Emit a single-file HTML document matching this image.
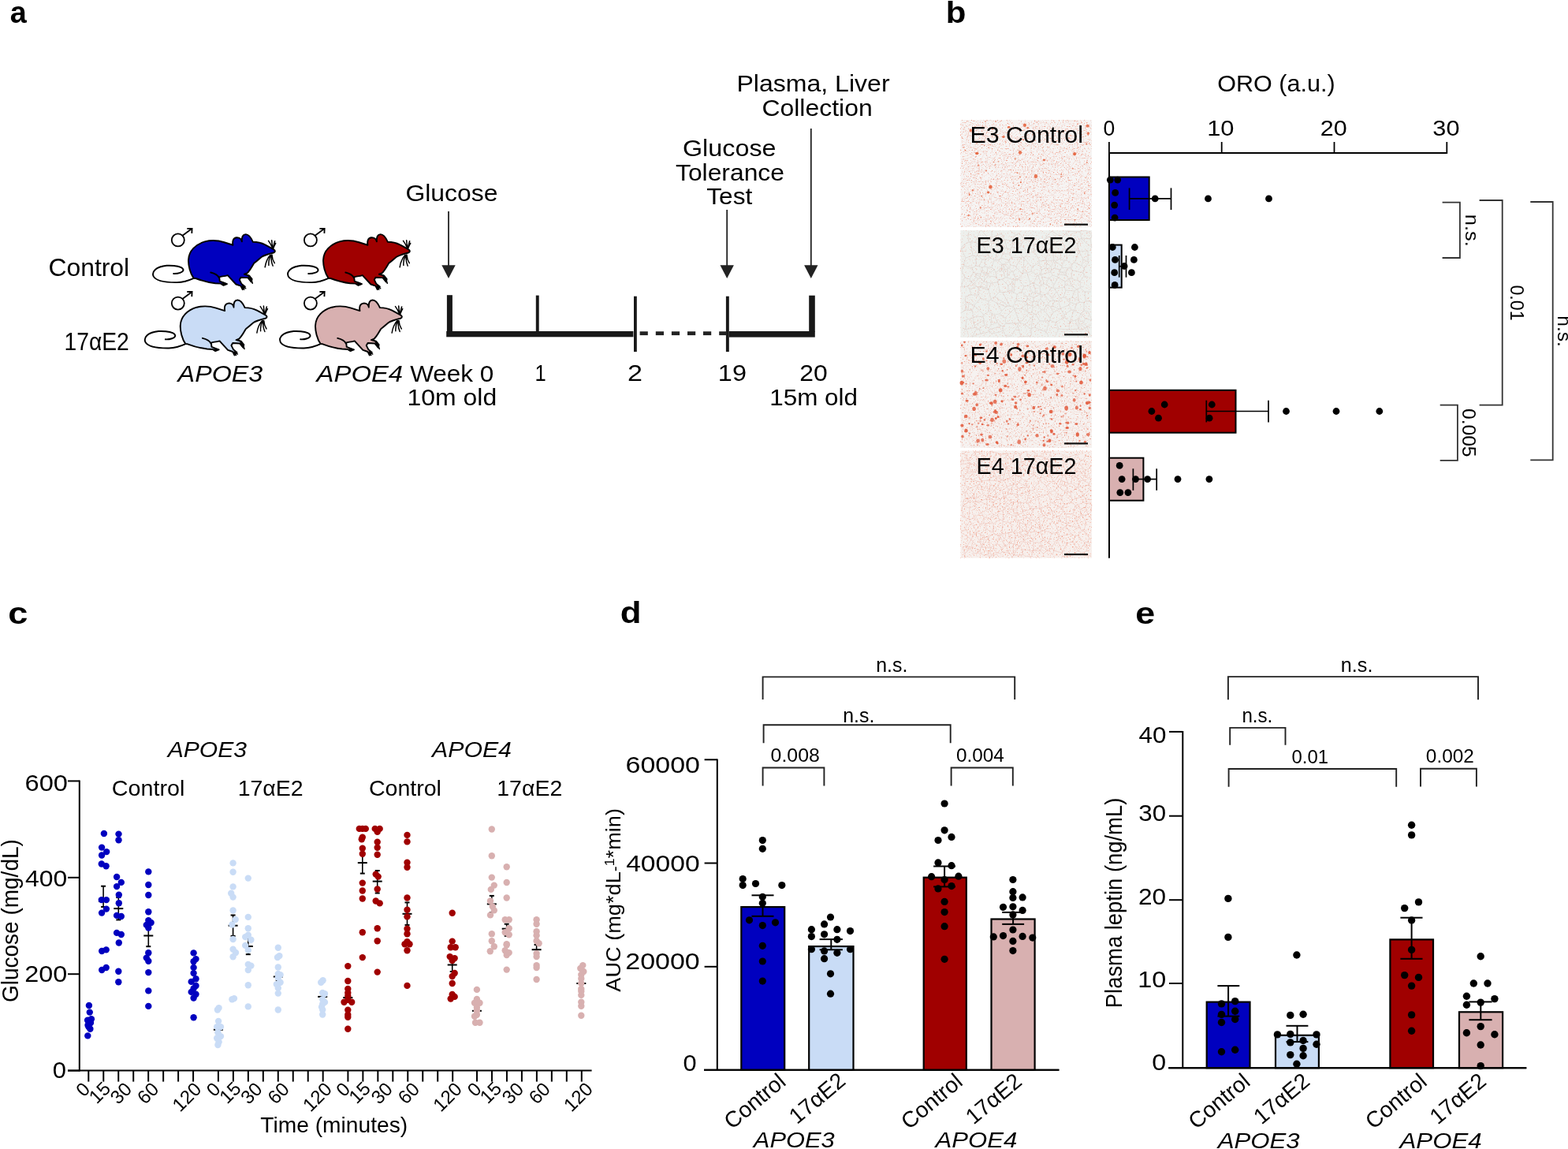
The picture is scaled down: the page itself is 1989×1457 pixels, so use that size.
<!DOCTYPE html>
<html><head><meta charset="utf-8"><title>Figure</title>
<style>html,body{margin:0;padding:0;background:#fff;}svg{display:block;}
text{font-family:"Liberation Sans",Arial,"Noto Sans CJK SC",sans-serif;}</style></head>
<body><svg width="1989" height="1457" viewBox="0 0 1989 1457">
<rect width="1989" height="1457" fill="#fff"/>
<defs><filter id="spk0" x="0" y="0" width="1" height="1" color-interpolation-filters="sRGB"><feTurbulence type="fractalNoise" baseFrequency="0.6" numOctaves="2" seed="2"/><feColorMatrix type="matrix" values="0 0 0 0 0.94 0 0 0 0 0.52 0 0 0 0 0.42 3.2 0 0 0 -1.84"/><feGaussianBlur stdDeviation="0.35"/></filter><filter id="spk1" x="0" y="0" width="1" height="1" color-interpolation-filters="sRGB"><feTurbulence type="fractalNoise" baseFrequency="0.6" numOctaves="2" seed="7"/><feColorMatrix type="matrix" values="0 0 0 0 0.94 0 0 0 0 0.66 0 0 0 0 0.6 2.8 0 0 0 -1.64"/><feGaussianBlur stdDeviation="0.35"/></filter><filter id="spk2" x="0" y="0" width="1" height="1" color-interpolation-filters="sRGB"><feTurbulence type="fractalNoise" baseFrequency="0.6" numOctaves="2" seed="12"/><feColorMatrix type="matrix" values="0 0 0 0 0.93 0 0 0 0 0.5 0 0 0 0 0.4 3.2 0 0 0 -1.9"/><feGaussianBlur stdDeviation="0.35"/></filter><filter id="spk3" x="0" y="0" width="1" height="1" color-interpolation-filters="sRGB"><feTurbulence type="fractalNoise" baseFrequency="0.6" numOctaves="2" seed="17"/><feColorMatrix type="matrix" values="0 0 0 0 0.95 0 0 0 0 0.58 0 0 0 0 0.48 3.2 0 0 0 -1.82"/><feGaussianBlur stdDeviation="0.35"/></filter></defs>
<text x="12.87" y="29.20" font-size="39.5" font-weight="bold" textLength="20.99" lengthAdjust="spacingAndGlyphs" fill="#000">a</text>
<text x="61.41" y="349.90" font-size="30.5" textLength="102.79" lengthAdjust="spacingAndGlyphs" fill="#000">Control</text>
<text x="81.48" y="443.70" font-size="30.5" textLength="82.29" lengthAdjust="spacingAndGlyphs" fill="#000">17αE2</text>
<text x="225.61" y="484.00" font-size="30" font-style="italic" textLength="107.71" lengthAdjust="spacingAndGlyphs" fill="#000">APOE3</text>
<text x="401.64" y="484.00" font-size="30" font-style="italic" textLength="109.51" lengthAdjust="spacingAndGlyphs" fill="#000">APOE4</text>
<text x="520.24" y="484.00" font-size="30" textLength="106.08" lengthAdjust="spacingAndGlyphs" fill="#000">Week 0</text>
<text x="516.61" y="513.50" font-size="30" textLength="113.56" lengthAdjust="spacingAndGlyphs" fill="#000">10m old</text>
<text x="678.48" y="482.50" font-size="30" textLength="14.23" lengthAdjust="spacingAndGlyphs" fill="#000">1</text>
<text x="795.90" y="482.50" font-size="30" textLength="18.95" lengthAdjust="spacingAndGlyphs" fill="#000">2</text>
<text x="910.87" y="482.50" font-size="30" textLength="36.07" lengthAdjust="spacingAndGlyphs" fill="#000">19</text>
<text x="1014.21" y="482.50" font-size="30" textLength="35.44" lengthAdjust="spacingAndGlyphs" fill="#000">20</text>
<text x="976.24" y="514.20" font-size="30" textLength="111.78" lengthAdjust="spacingAndGlyphs" fill="#000">15m old</text>
<text x="514.40" y="254.80" font-size="30" textLength="117.15" lengthAdjust="spacingAndGlyphs" fill="#000">Glucose</text>
<text x="865.98" y="197.60" font-size="30" textLength="118.58" lengthAdjust="spacingAndGlyphs" fill="#000">Glucose</text>
<text x="857.00" y="228.70" font-size="30" textLength="137.96" lengthAdjust="spacingAndGlyphs" fill="#000">Tolerance</text>
<text x="896.21" y="259.00" font-size="30" textLength="58.08" lengthAdjust="spacingAndGlyphs" fill="#000">Test</text>
<text x="934.44" y="116.00" font-size="30" textLength="194.13" lengthAdjust="spacingAndGlyphs" fill="#000">Plasma, Liver</text>
<text x="966.40" y="147.00" font-size="30" textLength="140.31" lengthAdjust="spacingAndGlyphs" fill="#000">Collection</text>
<g transform="translate(185.00,280.00) scale(0.08798)" stroke="#000" stroke-width="22" stroke-linejoin="round" stroke-linecap="round"><path d="M690 828 C640 760 610 640 615 560 C620 430 720 340 850 300 C950 275 1050 285 1130 310 L1255 350 C1245 290 1260 245 1310 242 C1355 240 1380 270 1385 300 C1380 230 1400 195 1440 195 C1490 195 1520 250 1545 305 C1600 305 1650 310 1720 345 L1840 410 C1870 425 1870 450 1840 460 C1760 480 1700 500 1670 520 C1620 560 1590 590 1560 610 C1530 660 1500 720 1460 755 L1420 770 L1490 790 L1530 840 L1520 880 L1470 820 L1370 815 L1350 850 L1380 910 L1430 950 L1395 990 L1370 940 L1300 915 L1180 785 C1130 800 1080 800 1060 810 L1065 870 L1130 895 L1170 910 L1120 930 L1080 905 L1000 900 C900 890 800 860 720 830 Z" fill="#0000BF"/><path d="M935 745 C1000 760 1040 790 1055 820 M690 828 C620 860 560 885 450 888 C300 890 150 870 110 800 C80 730 150 660 300 645 C420 640 530 660 540 705 C545 745 460 765 400 762 " fill="none"/><path d="M1828 400 Q1800 330 1768 288 M1830 400 Q1818 340 1815 282 M1832 402 Q1845 340 1860 292 M1835 405 Q1850 360 1872 322 M1795 492 Q1735 560 1718 668 M1802 495 Q1765 565 1772 642 M1810 495 Q1800 575 1832 650 M1818 490 Q1822 560 1856 610 M1480 795 L1512 872 M1498 798 L1528 884 M1515 825 L1538 900 M1395 940 L1440 975 M1385 955 L1418 990" fill="none" stroke-width="17"/><circle cx="1120" cy="910" r="22" fill="#000" stroke="none"/><circle cx="1400" cy="955" r="22" fill="#000" stroke="none"/></g>
<g transform="translate(356.00,280.00) scale(0.08798)" stroke="#000" stroke-width="22" stroke-linejoin="round" stroke-linecap="round"><path d="M690 828 C640 760 610 640 615 560 C620 430 720 340 850 300 C950 275 1050 285 1130 310 L1255 350 C1245 290 1260 245 1310 242 C1355 240 1380 270 1385 300 C1380 230 1400 195 1440 195 C1490 195 1520 250 1545 305 C1600 305 1650 310 1720 345 L1840 410 C1870 425 1870 450 1840 460 C1760 480 1700 500 1670 520 C1620 560 1590 590 1560 610 C1530 660 1500 720 1460 755 L1420 770 L1490 790 L1530 840 L1520 880 L1470 820 L1370 815 L1350 850 L1380 910 L1430 950 L1395 990 L1370 940 L1300 915 L1180 785 C1130 800 1080 800 1060 810 L1065 870 L1130 895 L1170 910 L1120 930 L1080 905 L1000 900 C900 890 800 860 720 830 Z" fill="#A00000"/><path d="M935 745 C1000 760 1040 790 1055 820 M690 828 C620 860 560 885 450 888 C300 890 150 870 110 800 C80 730 150 660 300 645 C420 640 530 660 540 705 C545 745 460 765 400 762 " fill="none"/><path d="M1828 400 Q1800 330 1768 288 M1830 400 Q1818 340 1815 282 M1832 402 Q1845 340 1860 292 M1835 405 Q1850 360 1872 322 M1795 492 Q1735 560 1718 668 M1802 495 Q1765 565 1772 642 M1810 495 Q1800 575 1832 650 M1818 490 Q1822 560 1856 610 M1480 795 L1512 872 M1498 798 L1528 884 M1515 825 L1538 900 M1395 940 L1440 975 M1385 955 L1418 990" fill="none" stroke-width="17"/><circle cx="1120" cy="910" r="22" fill="#000" stroke="none"/><circle cx="1400" cy="955" r="22" fill="#000" stroke="none"/></g>
<g transform="translate(174.70,363.30) scale(0.08798)" stroke="#000" stroke-width="22" stroke-linejoin="round" stroke-linecap="round"><path d="M690 828 C640 760 610 640 615 560 C620 430 720 340 850 300 C950 275 1050 285 1130 310 L1255 350 C1245 290 1260 245 1310 242 C1355 240 1380 270 1385 300 C1380 230 1400 195 1440 195 C1490 195 1520 250 1545 305 C1600 305 1650 310 1720 345 L1840 410 C1870 425 1870 450 1840 460 C1760 480 1700 500 1670 520 C1620 560 1590 590 1560 610 C1530 660 1500 720 1460 755 L1420 770 L1490 790 L1530 840 L1520 880 L1470 820 L1370 815 L1350 850 L1380 910 L1430 950 L1395 990 L1370 940 L1300 915 L1180 785 C1130 800 1080 800 1060 810 L1065 870 L1130 895 L1170 910 L1120 930 L1080 905 L1000 900 C900 890 800 860 720 830 Z" fill="#C9DCF6"/><path d="M935 745 C1000 760 1040 790 1055 820 M690 828 C620 860 560 885 450 888 C300 890 150 870 110 800 C80 730 150 660 300 645 C420 640 530 660 540 705 C545 745 460 765 400 762 " fill="none"/><path d="M1828 400 Q1800 330 1768 288 M1830 400 Q1818 340 1815 282 M1832 402 Q1845 340 1860 292 M1835 405 Q1850 360 1872 322 M1795 492 Q1735 560 1718 668 M1802 495 Q1765 565 1772 642 M1810 495 Q1800 575 1832 650 M1818 490 Q1822 560 1856 610 M1480 795 L1512 872 M1498 798 L1528 884 M1515 825 L1538 900 M1395 940 L1440 975 M1385 955 L1418 990" fill="none" stroke-width="17"/><circle cx="1120" cy="910" r="22" fill="#000" stroke="none"/><circle cx="1400" cy="955" r="22" fill="#000" stroke="none"/></g>
<g transform="translate(346.00,363.30) scale(0.08798)" stroke="#000" stroke-width="22" stroke-linejoin="round" stroke-linecap="round"><path d="M690 828 C640 760 610 640 615 560 C620 430 720 340 850 300 C950 275 1050 285 1130 310 L1255 350 C1245 290 1260 245 1310 242 C1355 240 1380 270 1385 300 C1380 230 1400 195 1440 195 C1490 195 1520 250 1545 305 C1600 305 1650 310 1720 345 L1840 410 C1870 425 1870 450 1840 460 C1760 480 1700 500 1670 520 C1620 560 1590 590 1560 610 C1530 660 1500 720 1460 755 L1420 770 L1490 790 L1530 840 L1520 880 L1470 820 L1370 815 L1350 850 L1380 910 L1430 950 L1395 990 L1370 940 L1300 915 L1180 785 C1130 800 1080 800 1060 810 L1065 870 L1130 895 L1170 910 L1120 930 L1080 905 L1000 900 C900 890 800 860 720 830 Z" fill="#D8B0B0"/><path d="M935 745 C1000 760 1040 790 1055 820 M690 828 C620 860 560 885 450 888 C300 890 150 870 110 800 C80 730 150 660 300 645 C420 640 530 660 540 705 C545 745 460 765 400 762 " fill="none"/><path d="M1828 400 Q1800 330 1768 288 M1830 400 Q1818 340 1815 282 M1832 402 Q1845 340 1860 292 M1835 405 Q1850 360 1872 322 M1795 492 Q1735 560 1718 668 M1802 495 Q1765 565 1772 642 M1810 495 Q1800 575 1832 650 M1818 490 Q1822 560 1856 610 M1480 795 L1512 872 M1498 798 L1528 884 M1515 825 L1538 900 M1395 940 L1440 975 M1385 955 L1418 990" fill="none" stroke-width="17"/><circle cx="1120" cy="910" r="22" fill="#000" stroke="none"/><circle cx="1400" cy="955" r="22" fill="#000" stroke="none"/></g>
<g fill="none" stroke="#000" stroke-width="1.8"><circle cx="225.8" cy="304.4" r="8"/><path d="M231.5 298.7 L243.6 289.8 M237.3 289.8 L243.6 289.8 L243.3 295.9"/></g>
<g fill="none" stroke="#000" stroke-width="1.8"><circle cx="393.9" cy="304.4" r="8"/><path d="M399.6 298.7 L411.7 289.8 M405.4 289.8 L411.7 289.8 L411.4 295.9"/></g>
<g fill="none" stroke="#000" stroke-width="1.8"><circle cx="225.8" cy="384.6" r="8"/><path d="M231.5 378.9 L243.6 370.0 M237.3 370.0 L243.6 370.0 L243.3 376.1"/></g>
<g fill="none" stroke="#000" stroke-width="1.8"><circle cx="393.9" cy="384.6" r="8"/><path d="M399.6 378.9 L411.7 370.0 M405.4 370.0 L411.7 370.0 L411.4 376.1"/></g>
<rect x="566.20" y="420.00" width="237.20" height="7.30" fill="#181818"/>
<rect x="924.80" y="420.00" width="109.00" height="7.60" fill="#181818"/>
<rect x="566.90" y="374.20" width="7.00" height="46.00" fill="#181818"/>
<rect x="679.80" y="374.60" width="3.90" height="46.00" fill="#181818"/>
<rect x="804.00" y="375.70" width="3.80" height="70.40" fill="#181818"/>
<rect x="920.90" y="375.70" width="3.90" height="70.40" fill="#181818"/>
<rect x="1026.20" y="374.70" width="7.60" height="46.00" fill="#181818"/>
<rect x="811.60" y="420.30" width="10.20" height="4.80" fill="#222"/>
<rect x="831.80" y="420.30" width="10.20" height="4.80" fill="#222"/>
<rect x="851.90" y="420.30" width="10.20" height="4.80" fill="#222"/>
<rect x="872.00" y="420.30" width="10.20" height="4.80" fill="#222"/>
<rect x="892.00" y="420.30" width="10.20" height="4.80" fill="#222"/>
<rect x="912.20" y="420.30" width="10.20" height="4.80" fill="#222"/>
<line x1="569.00" y1="268.00" x2="569.00" y2="339.00" stroke="#222" stroke-width="1.8"/>
<path d="M560.3 336.2 L577.7 336.2 L569.0 353.0 Z" fill="#222"/>
<line x1="922.20" y1="266.00" x2="922.20" y2="339.00" stroke="#222" stroke-width="1.8"/>
<path d="M913.5 336.2 L930.9 336.2 L922.2 353.0 Z" fill="#222"/>
<line x1="1028.80" y1="163.00" x2="1028.80" y2="339.00" stroke="#222" stroke-width="1.8"/>
<path d="M1020.1 336.2 L1037.5 336.2 L1028.8 353.0 Z" fill="#222"/>
<text x="1199.67" y="29.20" font-size="39.5" font-weight="bold" textLength="25.64" lengthAdjust="spacingAndGlyphs" fill="#000">b</text>
<rect x="1218.40" y="152.00" width="166.60" height="136.00" fill="#F6F4F3"/>
<rect x="1218.4" y="152" width="166.6" height="136.0" fill="#fff" filter="url(#spk0)"/>
<g fill="#E4572E"><ellipse cx="1272.9" cy="173.6" rx="1.9" ry="1.4" opacity="0.86"/><ellipse cx="1279.7" cy="161.2" rx="1.8" ry="1.2" opacity="0.84"/><ellipse cx="1231.3" cy="165.6" rx="1.7" ry="2.0" opacity="0.77"/><ellipse cx="1256.4" cy="236.9" rx="2.3" ry="2.5" opacity="0.83"/><ellipse cx="1379.6" cy="159.7" rx="2.2" ry="1.9" opacity="0.78"/><ellipse cx="1239.2" cy="194.5" rx="2.2" ry="1.7" opacity="0.87"/><ellipse cx="1324.4" cy="203.0" rx="1.8" ry="1.3" opacity="0.76"/><ellipse cx="1253.6" cy="244.0" rx="1.7" ry="1.4" opacity="0.87"/><ellipse cx="1294.0" cy="193.4" rx="2.1" ry="2.4" opacity="0.80"/><ellipse cx="1313.9" cy="223.4" rx="2.2" ry="2.6" opacity="0.81"/><ellipse cx="1380.3" cy="169.2" rx="1.6" ry="1.9" opacity="0.78"/><ellipse cx="1299.9" cy="158.7" rx="2.0" ry="2.3" opacity="0.86"/><ellipse cx="1363.1" cy="195.2" rx="2.0" ry="2.1" opacity="0.87"/><ellipse cx="1294.5" cy="265.2" rx="1.2" ry="1.1" opacity="0.68"/><ellipse cx="1229.8" cy="246.8" rx="1.0" ry="1.3" opacity="0.74"/><ellipse cx="1266.5" cy="204.8" rx="1.0" ry="0.7" opacity="0.61"/><ellipse cx="1247.4" cy="169.1" rx="0.6" ry="0.8" opacity="0.50"/><ellipse cx="1260.4" cy="205.5" rx="1.1" ry="0.8" opacity="0.61"/><ellipse cx="1309.8" cy="271.0" rx="1.1" ry="1.4" opacity="0.55"/><ellipse cx="1287.8" cy="201.2" rx="1.1" ry="1.5" opacity="0.50"/><ellipse cx="1248.7" cy="184.4" rx="0.7" ry="0.7" opacity="0.66"/><ellipse cx="1262.9" cy="154.0" rx="0.9" ry="0.8" opacity="0.65"/><ellipse cx="1375.8" cy="245.3" rx="0.9" ry="1.0" opacity="0.69"/><ellipse cx="1228.7" cy="273.1" rx="1.1" ry="1.3" opacity="0.73"/><ellipse cx="1284.1" cy="206.6" rx="0.7" ry="0.7" opacity="0.47"/><ellipse cx="1230.9" cy="181.3" rx="0.7" ry="0.6" opacity="0.47"/><ellipse cx="1219.9" cy="173.6" rx="0.7" ry="0.6" opacity="0.46"/><ellipse cx="1362.9" cy="235.2" rx="0.7" ry="0.6" opacity="0.57"/><ellipse cx="1279.5" cy="169.8" rx="1.1" ry="1.5" opacity="0.61"/><ellipse cx="1299.1" cy="164.9" rx="0.7" ry="0.6" opacity="0.54"/><ellipse cx="1355.5" cy="175.0" rx="0.6" ry="0.8" opacity="0.63"/><ellipse cx="1243.9" cy="225.7" rx="0.6" ry="0.6" opacity="0.79"/><ellipse cx="1361.1" cy="246.1" rx="0.8" ry="0.7" opacity="0.51"/><ellipse cx="1346.2" cy="224.3" rx="1.1" ry="0.9" opacity="0.53"/><ellipse cx="1352.7" cy="284.5" rx="1.1" ry="1.3" opacity="0.74"/><ellipse cx="1340.9" cy="183.7" rx="0.9" ry="0.8" opacity="0.46"/><ellipse cx="1224.5" cy="190.7" rx="0.8" ry="0.9" opacity="0.78"/><ellipse cx="1293.1" cy="278.1" rx="1.2" ry="1.6" opacity="0.58"/><ellipse cx="1256.0" cy="183.7" rx="0.7" ry="0.6" opacity="0.67"/><ellipse cx="1367.2" cy="265.3" rx="0.9" ry="1.0" opacity="0.73"/><ellipse cx="1233.8" cy="241.4" rx="1.1" ry="1.4" opacity="0.71"/><ellipse cx="1298.1" cy="177.2" rx="1.1" ry="0.9" opacity="0.73"/><ellipse cx="1378.9" cy="206.1" rx="0.8" ry="1.1" opacity="0.70"/><ellipse cx="1247.7" cy="170.4" rx="0.7" ry="0.9" opacity="0.73"/><ellipse cx="1243.8" cy="263.4" rx="1.2" ry="1.3" opacity="0.57"/><ellipse cx="1309.7" cy="170.9" rx="0.6" ry="0.8" opacity="0.68"/><ellipse cx="1306.0" cy="277.7" rx="0.9" ry="1.1" opacity="0.74"/><ellipse cx="1254.4" cy="187.0" rx="0.8" ry="0.6" opacity="0.66"/><ellipse cx="1262.3" cy="209.2" rx="0.7" ry="0.9" opacity="0.57"/><ellipse cx="1294.9" cy="231.1" rx="1.1" ry="1.1" opacity="0.77"/><ellipse cx="1302.0" cy="224.2" rx="0.9" ry="0.6" opacity="0.60"/><ellipse cx="1249.9" cy="154.0" rx="1.1" ry="0.8" opacity="0.62"/><ellipse cx="1338.5" cy="227.5" rx="0.8" ry="0.8" opacity="0.64"/><ellipse cx="1348.2" cy="167.6" rx="0.9" ry="0.8" opacity="0.55"/><ellipse cx="1346.2" cy="221.0" rx="0.9" ry="1.1" opacity="0.77"/><ellipse cx="1292.4" cy="235.0" rx="0.9" ry="0.9" opacity="0.69"/><ellipse cx="1293.9" cy="224.4" rx="0.9" ry="1.2" opacity="0.69"/><ellipse cx="1363.3" cy="278.8" rx="0.8" ry="0.8" opacity="0.78"/><ellipse cx="1357.3" cy="171.7" rx="0.7" ry="0.6" opacity="0.48"/><ellipse cx="1259.3" cy="163.2" rx="1.0" ry="1.2" opacity="0.76"/><ellipse cx="1245.2" cy="248.7" rx="1.0" ry="0.7" opacity="0.76"/><ellipse cx="1378.2" cy="182.7" rx="1.2" ry="1.1" opacity="0.62"/><ellipse cx="1381.8" cy="264.2" rx="0.7" ry="0.7" opacity="0.63"/><ellipse cx="1275.4" cy="179.5" rx="0.8" ry="0.9" opacity="0.46"/><ellipse cx="1310.5" cy="212.1" rx="0.6" ry="0.5" opacity="0.67"/><ellipse cx="1303.7" cy="162.1" rx="1.2" ry="1.4" opacity="0.79"/><ellipse cx="1237.0" cy="188.8" rx="0.6" ry="0.7" opacity="0.54"/><ellipse cx="1241.1" cy="209.7" rx="1.1" ry="1.4" opacity="0.54"/><ellipse cx="1244.3" cy="275.7" rx="0.9" ry="1.1" opacity="0.48"/><ellipse cx="1229.3" cy="245.0" rx="0.9" ry="0.6" opacity="0.78"/><ellipse cx="1323.7" cy="260.1" rx="0.7" ry="0.8" opacity="0.47"/><ellipse cx="1361.0" cy="213.9" rx="0.8" ry="0.8" opacity="0.77"/><ellipse cx="1263.7" cy="170.7" rx="0.9" ry="0.7" opacity="0.49"/><ellipse cx="1246.3" cy="160.2" rx="0.7" ry="0.6" opacity="0.56"/><ellipse cx="1344.2" cy="192.1" rx="0.9" ry="0.7" opacity="0.57"/><ellipse cx="1222.9" cy="186.8" rx="0.6" ry="0.7" opacity="0.64"/><ellipse cx="1250.9" cy="216.6" rx="1.2" ry="0.8" opacity="0.74"/><ellipse cx="1290.6" cy="219.3" rx="1.1" ry="1.0" opacity="0.63"/><ellipse cx="1332.4" cy="284.2" rx="0.8" ry="1.0" opacity="0.70"/><ellipse cx="1323.9" cy="207.3" rx="0.8" ry="0.6" opacity="0.50"/></g>
<rect x="1218.40" y="292.00" width="166.60" height="136.00" fill="#EDF0ED"/>
<rect x="1218.4" y="292" width="166.6" height="136.0" fill="#fff" filter="url(#spk1)"/>
<g fill="#E8785E"><ellipse cx="1231.5" cy="392.0" rx="0.8" ry="0.6" opacity="0.48"/><ellipse cx="1357.5" cy="409.3" rx="1.0" ry="0.8" opacity="0.53"/><ellipse cx="1267.8" cy="354.6" rx="0.7" ry="0.7" opacity="0.54"/><ellipse cx="1377.2" cy="422.9" rx="0.9" ry="0.8" opacity="0.79"/><ellipse cx="1270.5" cy="340.9" rx="0.6" ry="0.6" opacity="0.62"/></g>
<rect x="1218.40" y="432.00" width="166.60" height="136.00" fill="#F6F2F0"/>
<rect x="1218.4" y="432" width="166.6" height="136.0" fill="#fff" filter="url(#spk2)"/>
<g fill="#E25A3C"><ellipse cx="1302.2" cy="460.2" rx="1.8" ry="1.1" opacity="0.80"/><ellipse cx="1234.6" cy="486.6" rx="1.2" ry="0.8" opacity="0.81"/><ellipse cx="1258.0" cy="511.4" rx="1.8" ry="2.1" opacity="0.88"/><ellipse cx="1337.0" cy="550.4" rx="1.6" ry="1.4" opacity="0.95"/><ellipse cx="1244.4" cy="529.8" rx="1.9" ry="1.3" opacity="0.92"/><ellipse cx="1365.8" cy="516.9" rx="2.1" ry="2.5" opacity="0.78"/><ellipse cx="1305.6" cy="500.6" rx="2.2" ry="2.7" opacity="0.92"/><ellipse cx="1315.5" cy="552.2" rx="2.0" ry="2.3" opacity="0.80"/><ellipse cx="1225.0" cy="451.2" rx="1.6" ry="1.1" opacity="0.92"/><ellipse cx="1311.3" cy="517.0" rx="1.9" ry="2.2" opacity="0.85"/><ellipse cx="1220.4" cy="539.6" rx="2.1" ry="2.1" opacity="0.86"/><ellipse cx="1327.8" cy="442.3" rx="2.1" ry="1.7" opacity="0.76"/><ellipse cx="1263.3" cy="530.5" rx="1.4" ry="1.6" opacity="0.95"/><ellipse cx="1300.7" cy="484.4" rx="1.7" ry="1.9" opacity="0.90"/><ellipse cx="1320.8" cy="519.0" rx="1.2" ry="0.9" opacity="0.80"/><ellipse cx="1341.5" cy="474.0" rx="1.8" ry="1.2" opacity="0.76"/><ellipse cx="1263.9" cy="522.9" rx="2.0" ry="2.2" opacity="0.81"/><ellipse cx="1304.4" cy="495.3" rx="1.7" ry="1.3" opacity="0.93"/><ellipse cx="1252.5" cy="563.6" rx="2.3" ry="1.5" opacity="0.84"/><ellipse cx="1354.0" cy="562.3" rx="1.7" ry="1.4" opacity="0.79"/><ellipse cx="1374.6" cy="461.5" rx="1.9" ry="1.4" opacity="0.85"/><ellipse cx="1375.8" cy="451.1" rx="2.2" ry="2.2" opacity="0.93"/><ellipse cx="1335.0" cy="464.3" rx="2.3" ry="2.2" opacity="0.75"/><ellipse cx="1220.5" cy="498.9" rx="1.7" ry="1.5" opacity="0.78"/><ellipse cx="1276.2" cy="475.5" rx="2.2" ry="1.4" opacity="0.90"/><ellipse cx="1357.2" cy="449.5" rx="2.3" ry="2.6" opacity="0.93"/><ellipse cx="1267.3" cy="483.0" rx="1.6" ry="2.2" opacity="0.87"/><ellipse cx="1278.9" cy="490.4" rx="1.5" ry="1.0" opacity="0.77"/><ellipse cx="1356.5" cy="471.5" rx="2.3" ry="1.9" opacity="0.80"/><ellipse cx="1303.5" cy="458.7" rx="1.6" ry="2.1" opacity="0.93"/><ellipse cx="1352.7" cy="517.4" rx="2.3" ry="3.0" opacity="0.86"/><ellipse cx="1337.6" cy="440.1" rx="2.1" ry="2.0" opacity="0.90"/><ellipse cx="1325.3" cy="471.6" rx="1.2" ry="1.5" opacity="0.78"/><ellipse cx="1297.1" cy="479.2" rx="1.5" ry="1.7" opacity="0.95"/><ellipse cx="1262.5" cy="520.7" rx="1.5" ry="1.6" opacity="0.83"/><ellipse cx="1247.3" cy="455.0" rx="1.4" ry="1.8" opacity="0.85"/><ellipse cx="1255.9" cy="554.0" rx="2.4" ry="2.3" opacity="0.78"/><ellipse cx="1251.4" cy="445.6" rx="1.5" ry="1.1" opacity="0.80"/><ellipse cx="1262.2" cy="509.3" rx="2.3" ry="2.6" opacity="0.83"/><ellipse cx="1287.6" cy="503.2" rx="1.6" ry="1.4" opacity="0.76"/><ellipse cx="1265.3" cy="562.2" rx="1.3" ry="1.3" opacity="0.88"/><ellipse cx="1361.1" cy="462.2" rx="1.5" ry="1.2" opacity="0.83"/><ellipse cx="1292.8" cy="560.4" rx="2.2" ry="2.8" opacity="0.75"/><ellipse cx="1225.2" cy="527.9" rx="2.3" ry="2.2" opacity="0.87"/><ellipse cx="1219.9" cy="485.6" rx="2.3" ry="2.8" opacity="0.92"/><ellipse cx="1379.0" cy="466.5" rx="1.2" ry="0.9" opacity="0.85"/><ellipse cx="1331.5" cy="558.7" rx="2.0" ry="2.2" opacity="0.90"/><ellipse cx="1294.7" cy="506.8" rx="1.2" ry="1.4" opacity="0.80"/><ellipse cx="1370.4" cy="519.4" rx="1.5" ry="1.1" opacity="0.80"/><ellipse cx="1324.0" cy="526.4" rx="1.2" ry="0.9" opacity="0.85"/><ellipse cx="1315.3" cy="485.1" rx="1.4" ry="1.5" opacity="0.75"/><ellipse cx="1269.2" cy="494.8" rx="2.3" ry="2.6" opacity="0.93"/><ellipse cx="1297.7" cy="464.7" rx="1.4" ry="1.9" opacity="0.89"/><ellipse cx="1270.2" cy="436.4" rx="1.7" ry="2.0" opacity="0.83"/><ellipse cx="1262.0" cy="522.3" rx="2.3" ry="1.9" opacity="0.76"/><ellipse cx="1275.2" cy="489.4" rx="2.0" ry="1.6" opacity="0.91"/><ellipse cx="1340.8" cy="500.6" rx="1.4" ry="1.8" opacity="0.81"/><ellipse cx="1354.1" cy="464.2" rx="1.4" ry="1.6" opacity="0.81"/><ellipse cx="1375.6" cy="499.4" rx="1.3" ry="1.1" opacity="0.83"/><ellipse cx="1328.7" cy="559.7" rx="1.3" ry="1.2" opacity="0.79"/><ellipse cx="1379.3" cy="452.4" rx="1.2" ry="0.8" opacity="0.83"/><ellipse cx="1366.8" cy="551.0" rx="2.1" ry="2.8" opacity="0.94"/><ellipse cx="1273.8" cy="458.2" rx="2.3" ry="2.7" opacity="0.76"/><ellipse cx="1328.6" cy="483.9" rx="1.6" ry="1.4" opacity="0.78"/><ellipse cx="1220.4" cy="470.7" rx="1.6" ry="2.1" opacity="0.77"/><ellipse cx="1377.7" cy="461.1" rx="1.6" ry="1.9" opacity="0.91"/><ellipse cx="1290.6" cy="440.1" rx="1.7" ry="1.6" opacity="0.93"/><ellipse cx="1251.5" cy="481.9" rx="2.3" ry="1.5" opacity="0.83"/><ellipse cx="1352.7" cy="535.5" rx="1.2" ry="0.8" opacity="0.76"/><ellipse cx="1370.4" cy="467.7" rx="2.1" ry="2.6" opacity="0.82"/><ellipse cx="1264.5" cy="560.9" rx="1.9" ry="1.6" opacity="0.89"/><ellipse cx="1271.7" cy="470.2" rx="1.1" ry="1.3" opacity="0.93"/><ellipse cx="1323.6" cy="559.0" rx="1.1" ry="0.9" opacity="0.85"/><ellipse cx="1376.4" cy="560.4" rx="1.6" ry="1.3" opacity="0.84"/><ellipse cx="1300.6" cy="556.9" rx="1.3" ry="1.6" opacity="0.90"/><ellipse cx="1354.5" cy="536.3" rx="1.9" ry="1.7" opacity="0.81"/><ellipse cx="1279.1" cy="537.5" rx="1.2" ry="0.9" opacity="0.90"/><ellipse cx="1260.4" cy="442.1" rx="1.1" ry="1.2" opacity="0.82"/><ellipse cx="1380.3" cy="551.0" rx="2.4" ry="2.0" opacity="0.77"/><ellipse cx="1235.7" cy="499.8" rx="2.0" ry="1.9" opacity="0.80"/><ellipse cx="1288.1" cy="516.0" rx="2.0" ry="2.3" opacity="0.92"/><ellipse cx="1328.6" cy="449.6" rx="2.2" ry="1.9" opacity="0.86"/><ellipse cx="1280.9" cy="531.7" rx="1.4" ry="1.1" opacity="0.80"/><ellipse cx="1245.0" cy="551.1" rx="1.9" ry="1.6" opacity="0.83"/><ellipse cx="1382.3" cy="501.0" rx="1.4" ry="1.7" opacity="0.88"/><ellipse cx="1382.0" cy="447.1" rx="1.7" ry="2.1" opacity="0.92"/><ellipse cx="1369.5" cy="438.9" rx="1.5" ry="1.1" opacity="0.79"/><ellipse cx="1379.1" cy="511.1" rx="2.3" ry="2.1" opacity="0.92"/><ellipse cx="1293.4" cy="468.1" rx="2.1" ry="2.8" opacity="0.77"/><ellipse cx="1317.4" cy="516.0" rx="1.4" ry="1.3" opacity="0.78"/><ellipse cx="1253.3" cy="467.4" rx="1.9" ry="2.1" opacity="0.79"/><ellipse cx="1221.8" cy="477.0" rx="2.0" ry="1.5" opacity="0.81"/><ellipse cx="1253.2" cy="539.3" rx="1.8" ry="1.3" opacity="0.77"/><ellipse cx="1284.6" cy="506.7" rx="1.9" ry="1.4" opacity="0.78"/><ellipse cx="1333.7" cy="488.0" rx="1.5" ry="1.3" opacity="0.94"/><ellipse cx="1271.0" cy="508.8" rx="1.6" ry="1.5" opacity="0.92"/><ellipse cx="1382.9" cy="481.9" rx="1.4" ry="1.6" opacity="0.79"/><ellipse cx="1220.9" cy="553.4" rx="1.7" ry="2.0" opacity="0.83"/><ellipse cx="1364.3" cy="494.8" rx="1.3" ry="0.9" opacity="0.86"/><ellipse cx="1324.7" cy="554.5" rx="1.2" ry="1.3" opacity="0.82"/><ellipse cx="1302.4" cy="452.9" rx="1.5" ry="1.5" opacity="0.94"/><ellipse cx="1237.7" cy="498.7" rx="2.1" ry="2.8" opacity="0.79"/><ellipse cx="1240.6" cy="558.9" rx="2.4" ry="2.3" opacity="0.76"/><ellipse cx="1371.4" cy="485.1" rx="2.3" ry="2.5" opacity="0.91"/><ellipse cx="1246.1" cy="538.0" rx="1.4" ry="1.3" opacity="0.92"/><ellipse cx="1355.6" cy="457.8" rx="1.4" ry="1.3" opacity="0.85"/><ellipse cx="1282.7" cy="449.9" rx="1.4" ry="1.6" opacity="0.93"/><ellipse cx="1226.6" cy="508.3" rx="2.1" ry="1.4" opacity="0.92"/><ellipse cx="1239.2" cy="513.2" rx="1.8" ry="2.0" opacity="0.81"/><ellipse cx="1288.6" cy="511.0" rx="1.7" ry="1.8" opacity="0.84"/><ellipse cx="1291.6" cy="436.6" rx="1.9" ry="1.9" opacity="0.80"/><ellipse cx="1344.8" cy="537.2" rx="1.7" ry="1.3" opacity="0.84"/><ellipse cx="1237.4" cy="450.6" rx="1.7" ry="1.2" opacity="0.84"/><ellipse cx="1303.4" cy="438.9" rx="1.9" ry="1.4" opacity="0.90"/><ellipse cx="1347.1" cy="501.5" rx="1.2" ry="1.2" opacity="0.83"/><ellipse cx="1375.5" cy="451.6" rx="2.2" ry="3.0" opacity="0.90"/><ellipse cx="1353.2" cy="459.3" rx="2.4" ry="2.4" opacity="0.94"/><ellipse cx="1369.8" cy="455.5" rx="2.1" ry="2.8" opacity="0.76"/><ellipse cx="1277.3" cy="534.1" rx="1.3" ry="1.7" opacity="0.80"/><ellipse cx="1353.3" cy="452.6" rx="1.8" ry="2.3" opacity="0.79"/><ellipse cx="1262.9" cy="500.8" rx="1.5" ry="1.0" opacity="0.79"/><ellipse cx="1246.3" cy="558.0" rx="2.0" ry="2.5" opacity="0.78"/><ellipse cx="1348.3" cy="448.8" rx="1.8" ry="2.0" opacity="0.82"/><ellipse cx="1362.7" cy="507.3" rx="1.9" ry="2.4" opacity="0.77"/><ellipse cx="1382.3" cy="517.3" rx="1.6" ry="1.9" opacity="0.80"/><ellipse cx="1381.9" cy="510.3" rx="1.6" ry="1.9" opacity="0.84"/><ellipse cx="1248.8" cy="532.4" rx="1.2" ry="1.4" opacity="0.80"/><ellipse cx="1324.5" cy="564.4" rx="1.9" ry="2.1" opacity="0.81"/><ellipse cx="1220.2" cy="438.0" rx="1.3" ry="1.4" opacity="0.84"/><ellipse cx="1303.8" cy="552.6" rx="1.3" ry="1.0" opacity="0.88"/><ellipse cx="1223.5" cy="433.8" rx="1.6" ry="1.1" opacity="0.82"/><ellipse cx="1256.6" cy="511.1" rx="1.9" ry="1.5" opacity="0.87"/><ellipse cx="1297.6" cy="451.4" rx="2.3" ry="1.9" opacity="0.78"/><ellipse cx="1235.6" cy="518.4" rx="2.2" ry="2.7" opacity="0.83"/><ellipse cx="1263.1" cy="435.0" rx="1.9" ry="2.0" opacity="0.82"/><ellipse cx="1325.5" cy="492.5" rx="2.3" ry="2.7" opacity="0.80"/><ellipse cx="1367.7" cy="439.4" rx="1.8" ry="1.7" opacity="0.80"/><ellipse cx="1229.5" cy="537.1" rx="1.1" ry="1.2" opacity="0.94"/><ellipse cx="1243.2" cy="460.0" rx="1.9" ry="1.9" opacity="0.88"/><ellipse cx="1353.0" cy="456.7" rx="1.5" ry="1.3" opacity="0.76"/><ellipse cx="1365.4" cy="537.6" rx="2.0" ry="1.3" opacity="0.92"/><ellipse cx="1341.8" cy="495.4" rx="2.1" ry="2.0" opacity="0.80"/><ellipse cx="1237.1" cy="464.4" rx="1.2" ry="1.0" opacity="0.90"/><ellipse cx="1333.6" cy="545.9" rx="2.0" ry="1.7" opacity="0.86"/><ellipse cx="1291.2" cy="538.4" rx="1.8" ry="1.5" opacity="0.88"/><ellipse cx="1377.8" cy="462.4" rx="2.2" ry="1.5" opacity="0.80"/><ellipse cx="1258.5" cy="532.4" rx="2.3" ry="2.7" opacity="0.82"/><ellipse cx="1363.9" cy="477.2" rx="1.4" ry="1.8" opacity="0.88"/><ellipse cx="1333.2" cy="522.0" rx="2.4" ry="2.3" opacity="0.92"/><ellipse cx="1334.0" cy="547.6" rx="1.7" ry="1.9" opacity="0.86"/><ellipse cx="1270.2" cy="461.7" rx="1.9" ry="1.3" opacity="0.93"/><ellipse cx="1243.6" cy="437.1" rx="1.2" ry="1.6" opacity="0.82"/><ellipse cx="1243.1" cy="437.3" rx="1.2" ry="1.3" opacity="0.88"/><ellipse cx="1333.9" cy="531.5" rx="1.2" ry="1.3" opacity="0.82"/><ellipse cx="1353.7" cy="542.5" rx="2.3" ry="1.6" opacity="0.92"/><ellipse cx="1369.5" cy="559.1" rx="1.2" ry="1.0" opacity="0.77"/><ellipse cx="1225.5" cy="546.2" rx="2.2" ry="2.4" opacity="0.92"/><ellipse cx="1323.2" cy="471.7" rx="1.2" ry="0.9" opacity="0.90"/><ellipse cx="1253.4" cy="475.9" rx="1.7" ry="1.1" opacity="0.80"/><ellipse cx="1266.1" cy="528.7" rx="1.6" ry="1.4" opacity="0.94"/><ellipse cx="1302.3" cy="546.7" rx="1.0" ry="0.7" opacity="0.59"/><ellipse cx="1291.3" cy="536.3" rx="0.8" ry="0.9" opacity="0.64"/><ellipse cx="1255.3" cy="548.2" rx="0.7" ry="0.8" opacity="0.51"/><ellipse cx="1220.1" cy="460.4" rx="1.1" ry="1.4" opacity="0.45"/><ellipse cx="1300.2" cy="498.9" rx="1.1" ry="0.8" opacity="0.62"/><ellipse cx="1276.7" cy="544.1" rx="0.8" ry="1.0" opacity="0.55"/><ellipse cx="1255.0" cy="526.5" rx="0.9" ry="0.7" opacity="0.67"/><ellipse cx="1233.1" cy="538.3" rx="1.0" ry="1.2" opacity="0.67"/><ellipse cx="1278.1" cy="486.9" rx="0.8" ry="1.1" opacity="0.48"/><ellipse cx="1365.3" cy="436.8" rx="0.7" ry="0.6" opacity="0.77"/><ellipse cx="1301.9" cy="483.9" rx="1.1" ry="0.9" opacity="0.61"/><ellipse cx="1306.9" cy="533.8" rx="1.1" ry="1.2" opacity="0.57"/><ellipse cx="1273.3" cy="454.2" rx="1.1" ry="1.2" opacity="0.71"/><ellipse cx="1247.6" cy="491.9" rx="1.1" ry="1.1" opacity="0.49"/><ellipse cx="1295.5" cy="551.2" rx="0.7" ry="0.6" opacity="0.56"/><ellipse cx="1334.9" cy="545.7" rx="0.7" ry="0.5" opacity="0.54"/><ellipse cx="1273.3" cy="502.9" rx="0.7" ry="0.6" opacity="0.52"/><ellipse cx="1379.4" cy="530.4" rx="0.7" ry="0.9" opacity="0.49"/><ellipse cx="1282.8" cy="564.3" rx="1.1" ry="1.3" opacity="0.60"/><ellipse cx="1252.0" cy="518.4" rx="0.7" ry="0.5" opacity="0.59"/><ellipse cx="1225.5" cy="486.6" rx="1.1" ry="1.2" opacity="0.63"/><ellipse cx="1323.4" cy="495.1" rx="0.7" ry="0.7" opacity="0.59"/><ellipse cx="1341.1" cy="554.3" rx="0.9" ry="0.9" opacity="0.71"/><ellipse cx="1288.8" cy="463.9" rx="1.0" ry="1.3" opacity="0.72"/><ellipse cx="1334.4" cy="546.9" rx="1.0" ry="1.1" opacity="0.61"/><ellipse cx="1271.1" cy="517.1" rx="0.7" ry="0.6" opacity="0.72"/><ellipse cx="1336.6" cy="517.2" rx="0.8" ry="0.7" opacity="0.61"/><ellipse cx="1321.6" cy="487.9" rx="1.0" ry="1.3" opacity="0.51"/><ellipse cx="1327.0" cy="537.0" rx="0.8" ry="0.8" opacity="0.79"/><ellipse cx="1226.1" cy="505.8" rx="0.7" ry="0.8" opacity="0.78"/><ellipse cx="1304.8" cy="446.9" rx="0.9" ry="1.0" opacity="0.70"/><ellipse cx="1303.7" cy="518.5" rx="1.1" ry="1.1" opacity="0.59"/><ellipse cx="1375.0" cy="461.4" rx="1.0" ry="0.9" opacity="0.72"/><ellipse cx="1239.9" cy="564.4" rx="0.8" ry="0.6" opacity="0.55"/><ellipse cx="1285.3" cy="435.3" rx="0.9" ry="0.8" opacity="0.69"/><ellipse cx="1277.5" cy="468.8" rx="0.7" ry="0.9" opacity="0.78"/><ellipse cx="1306.1" cy="462.6" rx="1.1" ry="1.0" opacity="0.52"/><ellipse cx="1241.1" cy="536.8" rx="1.1" ry="1.2" opacity="0.61"/><ellipse cx="1311.9" cy="463.6" rx="1.2" ry="1.1" opacity="0.67"/><ellipse cx="1353.8" cy="542.1" rx="0.9" ry="0.8" opacity="0.64"/><ellipse cx="1240.4" cy="544.4" rx="0.8" ry="1.0" opacity="0.54"/><ellipse cx="1281.4" cy="467.2" rx="0.9" ry="0.7" opacity="0.45"/><ellipse cx="1338.0" cy="470.9" rx="0.7" ry="0.6" opacity="0.62"/><ellipse cx="1290.0" cy="518.3" rx="1.0" ry="0.9" opacity="0.78"/><ellipse cx="1359.7" cy="441.1" rx="1.1" ry="1.4" opacity="0.72"/><ellipse cx="1242.9" cy="544.1" rx="1.0" ry="0.6" opacity="0.45"/><ellipse cx="1375.6" cy="520.7" rx="0.8" ry="0.5" opacity="0.50"/><ellipse cx="1258.1" cy="536.7" rx="0.8" ry="0.6" opacity="0.77"/><ellipse cx="1349.4" cy="455.8" rx="1.1" ry="1.2" opacity="0.72"/><ellipse cx="1329.3" cy="552.4" rx="1.1" ry="1.3" opacity="0.52"/><ellipse cx="1333.2" cy="504.1" rx="1.0" ry="1.0" opacity="0.76"/><ellipse cx="1310.7" cy="468.7" rx="0.7" ry="0.6" opacity="0.62"/><ellipse cx="1229.5" cy="495.6" rx="0.7" ry="0.7" opacity="0.62"/><ellipse cx="1308.2" cy="548.3" rx="0.6" ry="0.7" opacity="0.61"/><ellipse cx="1311.9" cy="522.0" rx="1.1" ry="1.0" opacity="0.60"/><ellipse cx="1377.1" cy="443.5" rx="1.0" ry="1.1" opacity="0.46"/><ellipse cx="1319.6" cy="524.3" rx="1.2" ry="1.0" opacity="0.79"/><ellipse cx="1303.4" cy="498.0" rx="1.1" ry="0.8" opacity="0.70"/><ellipse cx="1322.2" cy="478.5" rx="1.1" ry="1.0" opacity="0.62"/><ellipse cx="1305.9" cy="536.0" rx="0.7" ry="0.7" opacity="0.60"/><ellipse cx="1310.5" cy="543.5" rx="0.8" ry="1.0" opacity="0.59"/><ellipse cx="1302.3" cy="469.6" rx="0.9" ry="1.2" opacity="0.68"/><ellipse cx="1349.5" cy="477.5" rx="0.8" ry="0.7" opacity="0.66"/><ellipse cx="1323.8" cy="537.8" rx="0.6" ry="0.7" opacity="0.76"/><ellipse cx="1309.1" cy="440.1" rx="0.8" ry="0.5" opacity="0.52"/><ellipse cx="1370.6" cy="514.5" rx="1.0" ry="1.2" opacity="0.77"/><ellipse cx="1320.0" cy="515.5" rx="1.0" ry="1.1" opacity="0.66"/><ellipse cx="1331.3" cy="461.8" rx="1.0" ry="1.0" opacity="0.72"/><ellipse cx="1236.5" cy="457.6" rx="0.6" ry="0.7" opacity="0.77"/><ellipse cx="1327.2" cy="482.6" rx="1.1" ry="1.3" opacity="0.65"/><ellipse cx="1262.1" cy="473.7" rx="0.9" ry="0.7" opacity="0.60"/><ellipse cx="1324.9" cy="557.7" rx="0.6" ry="0.7" opacity="0.46"/><ellipse cx="1239.3" cy="541.3" rx="0.9" ry="1.2" opacity="0.61"/><ellipse cx="1222.2" cy="485.0" rx="1.0" ry="1.2" opacity="0.79"/><ellipse cx="1297.7" cy="488.4" rx="0.7" ry="0.7" opacity="0.52"/><ellipse cx="1244.7" cy="435.6" rx="0.6" ry="0.7" opacity="0.49"/><ellipse cx="1378.0" cy="445.2" rx="1.1" ry="0.8" opacity="0.46"/><ellipse cx="1337.6" cy="465.7" rx="1.0" ry="0.8" opacity="0.47"/><ellipse cx="1346.5" cy="528.4" rx="1.1" ry="1.3" opacity="0.48"/><ellipse cx="1322.7" cy="527.8" rx="0.9" ry="1.1" opacity="0.54"/><ellipse cx="1377.7" cy="528.9" rx="0.6" ry="0.4" opacity="0.68"/><ellipse cx="1353.6" cy="444.1" rx="0.8" ry="0.9" opacity="0.51"/><ellipse cx="1360.8" cy="498.2" rx="0.6" ry="0.6" opacity="0.65"/><ellipse cx="1291.7" cy="523.5" rx="0.7" ry="0.8" opacity="0.58"/><ellipse cx="1325.4" cy="517.3" rx="0.9" ry="0.8" opacity="0.73"/><ellipse cx="1374.5" cy="537.9" rx="0.9" ry="0.8" opacity="0.47"/><ellipse cx="1379.2" cy="527.0" rx="1.1" ry="1.0" opacity="0.66"/><ellipse cx="1379.8" cy="544.1" rx="1.0" ry="0.8" opacity="0.60"/><ellipse cx="1365.2" cy="483.6" rx="1.0" ry="1.1" opacity="0.76"/><ellipse cx="1352.0" cy="471.2" rx="0.6" ry="0.5" opacity="0.60"/><ellipse cx="1315.9" cy="542.0" rx="1.1" ry="0.8" opacity="0.74"/><ellipse cx="1352.7" cy="548.8" rx="0.9" ry="0.8" opacity="0.75"/><ellipse cx="1351.9" cy="524.6" rx="1.1" ry="1.0" opacity="0.48"/><ellipse cx="1310.5" cy="539.6" rx="0.7" ry="0.8" opacity="0.78"/><ellipse cx="1258.2" cy="514.2" rx="1.0" ry="1.0" opacity="0.52"/><ellipse cx="1261.6" cy="533.4" rx="1.1" ry="1.0" opacity="0.48"/><ellipse cx="1351.9" cy="536.2" rx="0.7" ry="0.8" opacity="0.76"/><ellipse cx="1364.7" cy="502.9" rx="0.9" ry="0.9" opacity="0.52"/><ellipse cx="1251.4" cy="457.5" rx="1.0" ry="0.9" opacity="0.65"/><ellipse cx="1285.7" cy="502.3" rx="0.7" ry="0.5" opacity="0.80"/><ellipse cx="1281.1" cy="447.6" rx="1.0" ry="1.2" opacity="0.50"/><ellipse cx="1317.6" cy="479.4" rx="0.9" ry="0.6" opacity="0.46"/><ellipse cx="1381.9" cy="548.7" rx="0.9" ry="0.9" opacity="0.54"/><ellipse cx="1347.4" cy="490.2" rx="1.2" ry="1.4" opacity="0.74"/><ellipse cx="1377.5" cy="467.3" rx="0.6" ry="0.5" opacity="0.51"/><ellipse cx="1233.6" cy="440.3" rx="0.9" ry="1.2" opacity="0.61"/><ellipse cx="1374.9" cy="554.5" rx="0.6" ry="0.7" opacity="0.59"/><ellipse cx="1239.5" cy="561.1" rx="0.8" ry="0.8" opacity="0.67"/><ellipse cx="1376.4" cy="522.6" rx="0.8" ry="0.8" opacity="0.51"/><ellipse cx="1377.9" cy="565.4" rx="0.7" ry="0.5" opacity="0.54"/><ellipse cx="1277.5" cy="553.6" rx="1.1" ry="1.4" opacity="0.47"/><ellipse cx="1348.6" cy="527.9" rx="1.0" ry="1.3" opacity="0.47"/><ellipse cx="1243.6" cy="533.9" rx="1.2" ry="1.3" opacity="0.55"/><ellipse cx="1316.7" cy="534.3" rx="0.7" ry="0.6" opacity="0.54"/><ellipse cx="1240.2" cy="497.5" rx="0.7" ry="0.6" opacity="0.50"/><ellipse cx="1330.8" cy="435.2" rx="1.0" ry="0.8" opacity="0.46"/><ellipse cx="1371.7" cy="462.8" rx="1.2" ry="1.5" opacity="0.76"/><ellipse cx="1242.8" cy="493.0" rx="0.7" ry="0.9" opacity="0.74"/><ellipse cx="1322.7" cy="493.7" rx="0.8" ry="1.0" opacity="0.62"/><ellipse cx="1322.7" cy="452.5" rx="0.7" ry="0.5" opacity="0.70"/><ellipse cx="1310.4" cy="452.7" rx="1.1" ry="0.9" opacity="0.59"/><ellipse cx="1245.4" cy="469.6" rx="1.1" ry="1.0" opacity="0.51"/><ellipse cx="1300.2" cy="475.8" rx="1.1" ry="0.8" opacity="0.79"/><ellipse cx="1229.2" cy="552.5" rx="1.0" ry="0.8" opacity="0.62"/><ellipse cx="1266.7" cy="467.8" rx="0.7" ry="0.7" opacity="0.80"/><ellipse cx="1383.2" cy="556.5" rx="0.7" ry="0.6" opacity="0.76"/><ellipse cx="1229.3" cy="530.1" rx="0.8" ry="1.0" opacity="0.46"/><ellipse cx="1351.9" cy="478.8" rx="0.7" ry="0.4" opacity="0.74"/><ellipse cx="1306.0" cy="458.2" rx="0.9" ry="1.1" opacity="0.53"/><ellipse cx="1313.4" cy="451.9" rx="0.7" ry="0.8" opacity="0.70"/><ellipse cx="1252.1" cy="444.0" rx="0.7" ry="0.7" opacity="0.62"/><ellipse cx="1264.7" cy="460.9" rx="1.0" ry="1.1" opacity="0.73"/><ellipse cx="1315.3" cy="460.4" rx="0.6" ry="0.7" opacity="0.59"/><ellipse cx="1338.0" cy="440.9" rx="1.1" ry="1.0" opacity="0.74"/><ellipse cx="1361.3" cy="499.1" rx="0.6" ry="0.8" opacity="0.62"/><ellipse cx="1362.6" cy="468.9" rx="0.7" ry="0.9" opacity="0.58"/><ellipse cx="1246.6" cy="482.9" rx="1.0" ry="0.6" opacity="0.63"/><ellipse cx="1292.8" cy="502.1" rx="0.7" ry="0.8" opacity="0.74"/><ellipse cx="1361.5" cy="476.2" rx="1.0" ry="0.9" opacity="0.71"/><ellipse cx="1229.9" cy="549.6" rx="1.2" ry="1.2" opacity="0.63"/></g>
<rect x="1218.40" y="571.50" width="166.60" height="136.10" fill="#F7F0ED"/>
<rect x="1218.4" y="571.5" width="166.6" height="136.1" fill="#fff" filter="url(#spk3)"/>
<g fill="#E8785E"><ellipse cx="1306.7" cy="644.5" rx="0.6" ry="0.8" opacity="0.53"/><ellipse cx="1249.7" cy="586.7" rx="0.8" ry="0.9" opacity="0.46"/><ellipse cx="1235.7" cy="666.0" rx="0.7" ry="0.5" opacity="0.66"/><ellipse cx="1314.2" cy="642.6" rx="1.0" ry="0.7" opacity="0.75"/></g>
<path d="M1372 210L1370 207M1372 210L1377 208M1377 208L1381 199M1374 196L1381 199M1374 196L1369 200M1369 200L1370 207M1378 208L1382 211M1378 208L1381 219M1382 211L1383 217M1381 219L1383 217M1384 198L1381 199M1377 208L1378 208M1219 156L1223 162M1223 162L1223 162M1356 199L1356 206M1356 199L1360 197M1360 197L1360 197M1360 197L1364 204M1364 204L1356 215M1356 215L1356 206M1349 204L1356 206M1349 204L1348 202M1348 202L1349 199M1349 199L1356 199M1361 190L1345 188M1361 190L1360 197M1345 188L1344 194M1344 194L1349 199M1369 200L1360 197M1370 207L1364 204M1380 227L1379 227M1381 219L1377 225M1377 225L1379 227M1372 210L1367 218M1367 218L1372 222M1377 225L1372 222M1286 277L1302 277M1302 277L1302 278M1237 157L1233 157M1223 162L1233 157M1361 190L1362 189M1374 196L1369 187M1369 187L1367 187M1362 189L1367 187M1330 157L1332 162M1339 161L1334 163M1332 162L1334 163M1350 157L1346 162M1346 162L1339 161M1354 223L1348 223M1354 223L1356 219M1356 219L1355 217M1355 217L1349 211M1349 211L1340 208M1345 222L1348 223M1345 222L1335 211M1340 208L1336 208M1335 211L1335 208M1335 208L1336 208M1367 218L1356 219M1356 215L1355 217M1349 204L1349 211M1348 202L1340 208M1322 216L1331 216M1322 216L1324 223M1324 223L1332 218M1332 218L1332 216M1332 216L1331 216M1333 221L1332 218M1333 221L1345 222M1335 211L1332 216M1320 229L1323 231M1320 229L1323 224M1323 224L1333 224M1323 231L1333 224M1333 221L1333 224M1333 224L1333 224M1324 223L1323 224M1335 227L1333 224M1335 227L1326 233M1326 233L1324 233M1324 233L1323 231M1315 249L1322 240M1315 249L1311 240M1311 240L1313 230M1322 240L1324 233M1320 229L1317 229M1313 230L1317 229M1311 240L1303 238M1313 230L1308 228M1308 228L1303 238M1321 280L1314 286M1321 280L1324 275M1324 275L1319 270M1319 270L1310 282M1314 286L1310 282M1302 274L1316 268M1302 274L1302 277M1302 278L1310 282M1318 269L1317 268M1318 269L1319 270M1316 268L1317 268M1322 264L1321 258M1322 264L1330 260M1321 258L1328 259M1330 260L1328 259M1291 241L1295 239M1291 241L1293 248M1293 248L1293 249M1293 249L1306 246M1306 246L1299 239M1299 239L1295 239M1287 238L1285 225M1287 238L1291 241M1298 220L1285 225M1298 220L1301 225M1301 225L1295 239M1301 225L1306 227M1306 227L1308 228M1303 238L1299 239M1307 259L1314 253M1307 259L1302 257M1302 257L1301 253M1301 253L1311 249M1315 249L1315 252M1315 249L1311 249M1315 252L1314 253M1307 261L1316 268M1307 261L1307 259M1317 268L1314 253M1299 260L1290 254M1299 260L1302 257M1290 254L1293 248M1293 249L1301 253M1306 246L1311 249M1315 249L1322 250M1315 249L1315 249M1321 258L1315 252M1328 259L1322 250M1315 249L1315 249M1318 269L1322 264M1287 257L1292 267M1287 257L1290 254M1299 260L1300 270M1292 267L1300 270M1302 274L1301 273M1307 261L1300 270M1301 273L1300 270M1300 270L1300 270M1223 162L1227 170M1239 159L1238 170M1239 159L1237 157M1238 170L1235 173M1235 173L1228 172M1227 170L1228 172M1276 197L1268 192M1276 197L1271 208M1271 208L1263 209M1268 192L1261 201M1261 201L1263 209M1263 209L1263 209M1378 159L1385 160M1370 156L1377 160M1378 159L1377 160M1385 160L1385 160M1330 157L1315 154M1315 154L1315 154M1344 194L1338 199M1336 208L1335 204M1338 199L1335 204M1322 216L1319 214M1331 216L1319 208M1319 208L1319 214M1335 208L1319 208M1319 208L1319 208M1316 222L1317 229M1316 222L1318 215M1318 215L1319 214M1295 181L1301 185M1295 181L1291 191M1291 191L1301 185M1307 185L1301 185M1307 185L1307 193M1285 196L1286 195M1285 196L1292 203M1286 195L1291 191M1292 204L1292 203M1292 204L1298 202M1298 202L1307 193M1353 153L1366 153M1350 157L1353 155M1353 155L1353 153M1353 155L1365 161M1365 161L1368 157M1368 157L1366 153M1370 156L1368 157M1219 232L1220 235M1271 279L1265 283M1324 275L1329 275M1329 275L1331 277M1287 238L1285 239M1287 257L1284 257M1285 239L1279 244M1284 257L1279 257M1279 244L1279 257M1285 239L1265 229M1279 244L1274 244M1274 244L1264 237M1264 237L1265 229M1299 217L1298 220M1299 217L1292 204M1292 203L1285 210M1285 225L1281 222M1281 222L1285 210M1322 240L1331 243M1326 233L1327 234M1327 234L1331 243M1322 250L1336 247M1331 243L1336 247M1310 218L1309 222M1310 218L1314 221M1314 221L1309 222M1316 222L1314 221M1309 216L1318 215M1309 216L1310 218M1306 227L1309 222M1280 274L1276 272M1280 274L1283 275M1276 272L1284 265M1283 275L1284 273M1284 273L1287 270M1287 270L1284 265M1286 277L1283 275M1301 273L1284 273M1292 267L1287 270M1284 257L1284 265M1357 282L1363 287M1364 288L1363 287M1363 279L1363 287M1363 279L1355 274M1355 274L1354 275M1354 275L1357 282M1363 279L1370 278M1379 227L1379 228M1379 228L1382 237M1384 239L1382 237M1366 233L1370 235M1366 233L1356 235M1356 235L1355 241M1355 241L1371 239M1370 235L1371 239M1372 222L1366 233M1379 228L1370 235M1354 223L1356 235M1373 242L1382 237M1373 242L1371 239M1376 259L1373 257M1376 259L1381 262M1373 257L1374 253M1374 253L1384 247M1384 247L1384 239M1281 172L1281 172M1281 172L1272 167M1272 167L1269 163M1247 179L1251 177M1247 179L1240 177M1240 177L1248 173M1251 177L1249 174M1249 174L1248 173M1238 170L1241 170M1237 178L1235 173M1237 178L1240 177M1241 170L1244 171M1244 171L1248 173M1249 173L1259 172M1249 173L1249 174M1258 182L1251 177M1258 182L1261 175M1261 175L1259 172M1259 184L1245 183M1259 184L1259 185M1259 185L1250 194M1245 183L1239 189M1239 189L1249 194M1250 194L1249 194M1258 182L1259 184M1247 179L1245 183M1266 188L1259 185M1266 188L1281 172M1261 175L1272 167M1266 188L1268 192M1261 201L1253 199M1253 199L1250 194M1237 178L1238 189M1238 189L1239 189M1356 177L1362 173M1356 177L1349 175M1362 173L1353 166M1349 175L1349 167M1349 167L1353 166M1362 189L1356 177M1367 187L1365 172M1365 172L1362 173M1345 188L1342 183M1342 183L1344 180M1344 180L1349 175M1365 163L1367 169M1365 163L1353 166M1367 169L1365 172M1346 162L1349 167M1344 180L1334 163M1365 161L1365 163M1372 171L1378 168M1372 171L1376 182M1381 183L1376 182M1367 169L1372 171M1377 160L1378 168M1369 187L1376 182M1322 168L1320 165M1322 168L1312 169M1320 165L1310 162M1312 169L1310 162M1315 154L1320 165M1315 154L1308 159M1308 159L1310 162M1309 183L1325 194M1309 183L1318 181M1325 193L1318 181M1325 193L1325 194M1325 194L1325 194M1309 183L1307 185M1309 183L1309 183M1307 193L1316 200M1325 194L1316 200M1338 199L1331 187M1335 204L1332 202M1331 187L1325 193M1325 194L1332 202M1319 208L1318 205M1332 202L1318 205M1299 217L1304 216M1309 216L1309 215M1304 216L1309 215M1334 183L1332 163M1334 183L1333 183M1333 183L1322 177M1322 177L1323 169M1323 169L1332 163M1342 183L1334 183M1332 162L1332 163M1331 187L1333 183M1318 181L1322 177M1309 183L1307 176M1307 176L1312 169M1322 168L1323 169M1299 159L1299 159M1299 159L1297 160M1299 159L1303 173M1297 160L1282 173M1303 173L1288 175M1288 175L1283 174M1283 174L1282 173M1299 155L1299 159M1308 159L1299 159M1307 176L1303 173M1281 172L1282 173M1295 181L1288 175M1286 195L1283 174M1276 197L1285 196M1228 248L1228 238M1228 248L1221 251M1226 238L1228 238M1231 263L1230 263M1231 263L1234 254M1230 263L1221 251M1234 254L1234 250M1234 250L1228 248M1220 235L1226 238M1341 285L1343 286M1343 286L1351 285M1354 275L1353 276M1351 285L1353 276M1219 232L1229 228M1236 232L1228 238M1236 232L1236 231M1229 228L1236 231M1262 270L1261 275M1262 270L1269 269M1261 275L1271 278M1269 269L1276 272M1271 278L1276 272M1276 272L1276 272M1268 259L1258 263M1268 259L1269 269M1258 263L1262 270M1277 258L1271 257M1277 258L1276 272M1271 257L1268 259M1271 279L1271 278M1276 272L1276 272M1279 257L1277 258M1274 244L1269 252M1264 237L1263 238M1263 238L1269 252M1271 257L1269 253M1258 257L1258 262M1258 257L1266 252M1258 263L1258 262M1266 252L1269 253M1269 252L1269 253M1236 232L1240 245M1244 230L1237 231M1244 230L1247 231M1247 231L1249 236M1236 231L1237 231M1249 236L1240 245M1234 250L1240 246M1240 245L1240 246M1270 225L1272 208M1270 225L1278 222M1278 222L1273 209M1272 208L1273 209M1271 208L1272 208M1263 209L1265 228M1265 228L1265 228M1265 228L1270 225M1265 229L1265 228M1281 222L1278 222M1285 210L1273 209M1342 236L1336 228M1342 236L1342 242M1342 242L1339 244M1339 244L1333 235M1333 235L1336 228M1336 228L1336 228M1345 226L1336 228M1345 226L1342 236M1327 234L1333 235M1336 247L1336 247M1336 247L1339 244M1335 227L1336 228M1348 223L1345 226M1361 263L1373 257M1361 263L1371 273M1376 259L1372 273M1371 273L1372 273M1355 274L1357 267M1361 263L1360 263M1357 267L1360 263M1370 278L1371 275M1371 273L1371 275M1371 275L1382 282M1382 282L1383 280M1373 251L1371 248M1373 251L1356 251M1371 248L1355 242M1356 251L1355 242M1355 242L1355 242M1374 253L1373 251M1373 242L1371 248M1360 263L1355 257M1355 257L1356 251M1355 241L1355 242M1355 257L1345 258M1336 247L1337 252M1337 252L1345 258M1342 242L1355 242M1259 172L1254 164M1269 163L1263 161M1263 161L1254 164M1249 173L1253 164M1253 164L1254 164M1244 171L1249 161M1253 164L1249 161M1241 170L1249 160M1249 161L1249 160M1251 154L1250 156M1239 159L1249 160M1250 156L1249 160M1249 160L1249 160M1244 230L1248 217M1237 226L1237 226M1237 226L1244 217M1237 226L1237 231M1244 217L1248 217M1229 217L1237 226M1229 217L1227 216M1229 228L1223 219M1227 216L1223 219M1221 219L1223 219M1317 205L1316 202M1317 205L1311 209M1316 202L1305 206M1311 209L1307 208M1305 206L1307 208M1316 200L1316 202M1318 205L1317 205M1309 215L1311 209M1298 202L1305 206M1304 216L1307 208M1236 271L1234 278M1236 271L1231 263M1248 287L1235 282M1234 286L1235 282M1248 287L1251 285M1251 285L1252 278M1252 278L1235 280M1235 282L1235 280M1331 277L1332 277M1341 285L1341 282M1332 277L1341 282M1262 284L1259 279M1259 279L1254 287M1265 283L1262 284M1261 275L1259 277M1259 277L1259 279M1259 277L1254 277M1251 285L1254 287M1252 278L1254 277M1236 271L1245 266M1234 254L1241 258M1241 258L1245 266M1254 277L1248 265M1235 280L1234 278M1245 266L1248 265M1258 262L1249 264M1248 265L1249 264M1257 244L1258 248M1257 244L1254 244M1254 244L1246 248M1257 253L1248 254M1257 253L1258 248M1248 254L1246 249M1246 248L1246 249M1263 238L1257 244M1266 252L1258 248M1247 231L1261 227M1261 227L1265 228M1249 236L1254 244M1240 246L1246 248M1258 257L1257 253M1249 264L1248 254M1241 258L1246 249M1330 260L1331 261M1337 252L1335 256M1331 261L1335 256M1329 275L1333 268M1331 261L1333 268M1372 273L1381 274M1372 273L1381 263M1381 274L1384 269M1384 269L1383 265M1381 263L1383 265M1372 273L1372 273M1383 280L1381 274M1381 262L1381 263M1257 152L1261 158M1263 161L1261 158M1251 154L1257 152M1261 227L1250 216M1248 217L1250 216M1250 216L1250 216M1232 199L1224 202M1232 199L1236 204M1224 202L1228 212M1236 204L1228 212M1227 216L1228 212M1219 202L1224 202M1228 212L1228 212M1242 216L1237 210M1242 216L1237 218M1235 216L1237 218M1235 216L1237 210M1237 210L1237 210M1244 217L1242 216M1250 216L1239 206M1239 206L1237 210M1237 226L1237 218M1229 217L1235 216M1228 212L1237 210M1236 204L1239 206M1239 206L1239 206M1237 189L1234 194M1237 189L1225 183M1225 183L1219 185M1238 189L1237 189M1249 194L1243 205M1232 199L1234 194M1243 205L1239 206M1228 172L1225 183M1341 265L1337 268M1341 265L1342 265M1344 265L1342 265M1344 265L1347 275M1337 268L1344 274M1344 274L1347 276M1347 275L1347 276M1335 256L1341 265M1333 268L1337 268M1345 258L1342 265M1357 267L1344 265M1353 276L1347 275M1332 277L1344 274M1341 282L1347 276M1252 204L1245 206M1252 204L1254 211M1245 206L1252 213M1254 211L1252 213M1253 199L1252 204M1243 205L1245 206M1263 209L1254 211M1250 216L1252 213" fill="none" stroke="#E49A8A" stroke-width="0.7" opacity="0.28"/>
<path d="M1220 317L1220 313M1353 293L1370 294M1370 294L1370 293M1223 337L1223 332M1223 337L1222 338M1225 327L1220 317M1225 327L1223 332M1222 311L1225 309M1220 313L1222 311M1246 329L1242 338M1246 329L1241 325M1241 325L1240 324M1238 325L1238 337M1238 325L1240 324M1242 338L1238 337M1234 324L1225 327M1234 324L1238 325M1223 337L1233 340M1238 337L1233 340M1241 319L1252 319M1241 319L1240 309M1240 309L1245 309M1252 319L1245 309M1374 329L1372 337M1374 329L1369 319M1369 319L1369 318M1369 318L1363 333M1363 333L1372 337M1380 332L1374 329M1380 332L1380 318M1380 318L1369 319M1381 333L1375 340M1375 340L1375 342M1375 342L1376 342M1380 332L1381 333M1372 337L1375 340M1374 346L1375 350M1374 346L1375 342M1380 351L1375 350M1360 335L1363 333M1360 335L1359 340M1374 346L1360 343M1359 340L1360 343M1377 292L1384 297M1370 293L1377 292M1385 299L1384 297M1383 303L1372 302M1383 303L1385 314M1385 314L1371 302M1372 302L1371 302M1370 294L1372 302M1385 299L1383 303M1369 318L1368 318M1371 302L1367 310M1367 310L1368 318M1353 293L1352 296M1367 310L1352 296M1360 335L1353 330M1353 330L1353 317M1368 318L1353 317M1336 396L1344 392M1336 396L1333 389M1344 392L1335 388M1333 389L1335 388M1343 382L1338 381M1343 382L1345 391M1345 391L1344 392M1338 381L1335 388M1345 391L1350 399M1345 391L1356 387M1350 399L1359 393M1356 387L1359 393M1357 408L1362 394M1357 408L1350 402M1362 394L1359 393M1350 402L1350 399M1357 383L1365 386M1357 383L1356 387M1362 394L1363 394M1363 394L1365 386M1340 370L1345 378M1340 370L1338 366M1338 366L1350 364M1345 378L1349 377M1349 377L1352 368M1350 364L1352 368M1343 382L1345 378M1335 377L1336 381M1335 377L1340 370M1338 381L1336 381M1328 372L1335 377M1328 372L1334 365M1334 365L1336 365M1336 365L1338 366M1357 383L1356 380M1345 391L1345 391M1356 380L1349 377M1363 369L1352 368M1363 369L1360 377M1356 380L1360 377M1225 376L1224 381M1328 372L1325 374M1336 381L1332 382M1325 374L1332 382M1333 389L1328 387M1328 387L1332 382M1384 412L1379 415M1379 415L1383 425M1224 352L1220 359M1224 352L1220 344M1220 364L1220 359M1222 338L1220 344M1254 382L1244 378M1254 382L1257 380M1257 380L1257 379M1241 365L1243 364M1241 365L1241 374M1241 374L1244 378M1257 379L1254 368M1243 364L1254 368M1241 365L1239 363M1232 374L1241 374M1232 374L1230 367M1239 363L1230 367M1220 364L1227 363M1225 376L1232 374M1230 367L1227 363M1233 340L1235 345M1224 352L1230 354M1230 354L1235 345M1243 364L1243 363M1254 368L1254 368M1254 368L1252 365M1252 365L1243 363M1246 329L1250 329M1241 325L1254 323M1250 329L1255 326M1255 326L1254 323M1241 319L1240 324M1252 319L1254 320M1254 323L1254 320M1352 296L1347 301M1334 293L1347 301M1353 317L1351 316M1347 301L1346 303M1346 303L1346 303M1351 316L1346 303M1311 311L1309 307M1311 311L1319 308M1319 308L1327 302M1327 302L1327 300M1327 300L1327 300M1334 293L1327 300M1346 303L1327 300M1237 307L1243 293M1237 307L1231 307M1231 307L1229 307M1229 307L1228 301M1228 301L1228 297M1228 297L1229 294M1240 309L1237 307M1245 292L1255 304M1245 292L1243 293M1245 309L1255 304M1234 324L1231 307M1225 309L1229 307M1375 350L1370 357M1360 343L1359 353M1359 353L1370 357M1383 382L1385 382M1385 406L1380 395M1224 381L1225 382M1225 382L1229 385M1244 378L1236 387M1229 385L1236 387M1225 382L1225 393M1225 393L1219 397M1229 385L1228 393M1225 393L1228 393M1236 388L1236 387M1236 388L1233 394M1228 393L1233 394M1254 382L1254 395M1236 388L1248 399M1254 395L1248 399M1223 418L1225 417M1225 417L1225 414M1225 414L1226 405M1334 365L1327 361M1327 361L1324 360M1324 360L1321 362M1321 362L1319 363M1319 363L1320 373M1325 374L1321 374M1321 374L1320 373M1233 358L1235 360M1233 358L1232 357M1235 360L1241 353M1232 357L1238 352M1241 353L1238 352M1239 363L1235 360M1227 363L1233 358M1230 354L1232 357M1235 345L1238 347M1238 347L1238 348M1238 348L1238 352M1238 348L1243 351M1241 353L1244 353M1244 353L1243 351M1243 363L1248 357M1244 353L1248 357M1238 347L1244 347M1243 351L1244 347M1242 338L1246 339M1250 329L1249 338M1249 338L1246 339M1248 347L1245 345M1248 347L1252 347M1245 345L1246 342M1252 347L1246 342M1245 345L1244 347M1246 342L1246 339M1249 338L1253 339M1252 347L1252 347M1253 339L1252 347M1257 379L1262 376M1262 376L1268 370M1268 370L1266 358M1254 368L1257 359M1266 358L1257 359M1252 365L1252 358M1257 359L1252 358M1248 347L1249 355M1253 348L1252 347M1253 348L1253 350M1253 350L1249 355M1248 357L1248 357M1252 358L1248 357M1249 355L1248 357M1264 384L1276 389M1264 384L1271 394M1276 389L1271 394M1257 380L1264 384M1262 376L1279 388M1276 389L1279 388M1268 370L1272 371M1272 371L1281 388M1279 388L1281 388M1281 388L1285 389M1271 394L1268 398M1268 398L1275 403M1275 403L1287 391M1287 391L1285 389M1319 363L1311 359M1311 359L1311 359M1320 373L1320 373M1320 373L1314 371M1311 359L1314 371M1319 308L1325 309M1327 302L1328 305M1325 309L1328 305M1346 303L1333 312M1328 305L1333 312M1350 331L1345 328M1350 331L1353 330M1351 316L1346 319M1345 328L1346 319M1288 298L1293 296M1288 298L1281 292M1309 307L1300 304M1300 304L1293 296M1295 311L1291 316M1295 311L1296 309M1296 309L1284 307M1291 316L1284 313M1284 313L1284 307M1300 304L1296 309M1283 305L1284 307M1283 305L1288 298M1322 351L1320 348M1322 351L1330 353M1320 348L1333 345M1331 353L1330 353M1331 353L1335 349M1335 349L1333 345M1327 361L1330 353M1324 360L1322 351M1337 361L1336 365M1337 361L1331 353M1342 352L1337 361M1342 352L1341 351M1341 351L1335 349M1311 311L1312 317M1306 321L1311 318M1306 321L1295 311M1312 317L1311 318M1325 309L1330 317M1312 317L1330 317M1321 362L1317 349M1320 348L1320 348M1320 348L1317 349M1311 359L1316 349M1316 349L1317 349M1306 321L1299 326M1291 316L1297 326M1299 326L1297 326M1267 305L1257 306M1267 305L1263 299M1257 306L1256 304M1256 304L1258 301M1258 301L1263 299M1257 306L1257 306M1257 306L1270 311M1273 305L1270 311M1273 305L1267 305M1255 304L1256 304M1258 316L1254 320M1258 316L1257 306M1258 293L1258 301M1359 340L1355 340M1355 340L1352 345M1356 354L1359 353M1356 354L1353 350M1353 350L1352 345M1351 357L1351 361M1351 357L1356 354M1356 354L1360 363M1351 361L1360 363M1342 352L1351 357M1350 364L1351 361M1363 369L1366 367M1366 367L1360 363M1360 377L1368 381M1366 367L1367 367M1367 367L1368 381M1365 386L1370 383M1368 381L1370 383M1380 395L1375 394M1375 394L1375 384M1383 382L1377 382M1377 382L1375 384M1374 409L1368 404M1374 409L1377 404M1368 404L1371 398M1377 404L1371 398M1371 398L1371 398M1379 415L1379 415M1385 406L1377 404M1379 415L1374 409M1375 394L1371 398M1363 394L1371 398M1370 383L1375 384M1357 408L1364 406M1357 408L1356 418M1356 418L1356 418M1356 418L1368 417M1364 406L1368 417M1357 408L1357 408M1368 404L1367 405M1364 406L1367 405M1295 427L1307 426M1312 415L1319 407M1312 415L1327 421M1319 407L1331 407M1327 421L1331 407M1350 402L1339 409M1356 418L1343 417M1343 417L1339 409M1336 396L1332 403M1332 403L1332 406M1339 409L1332 406M1254 395L1258 397M1268 398L1261 399M1261 399L1258 397M1247 401L1248 406M1247 401L1235 402M1248 406L1236 413M1236 413L1234 403M1235 402L1234 403M1233 394L1235 402M1248 399L1247 401M1226 405L1234 403M1258 423L1258 423M1268 421L1258 423M1268 421L1272 419M1276 426L1272 419M1225 417L1225 418M1236 413L1237 415M1237 415L1225 418M1328 387L1327 388M1321 374L1320 379M1320 379L1327 388M1332 403L1324 393M1327 388L1324 393M1339 425L1343 417M1290 340L1297 347M1290 340L1285 345M1297 347L1292 354M1285 345L1289 354M1292 354L1289 354M1289 338L1290 340M1289 338L1282 336M1283 344L1285 345M1283 344L1280 340M1280 340L1282 336M1295 327L1289 338M1295 327L1283 326M1282 336L1280 332M1280 332L1280 330M1283 326L1280 330M1275 403L1276 410M1287 391L1287 392M1276 410L1292 410M1292 410L1293 409M1287 392L1293 409M1345 328L1339 331M1346 319L1336 321M1339 331L1337 330M1337 330L1337 330M1337 330L1336 321M1333 312L1331 317M1336 321L1331 317M1330 317L1331 317M1331 317L1331 317M1309 339L1308 344M1309 339L1299 327M1299 327L1298 346M1308 344L1303 346M1303 346L1298 346M1299 326L1299 327M1295 327L1297 326M1297 347L1298 346M1311 359L1307 360M1307 360L1303 346M1316 349L1308 344M1339 332L1338 340M1339 332L1347 337M1338 340L1345 342M1345 342L1347 339M1347 337L1347 339M1333 338L1337 330M1333 338L1334 342M1334 342L1338 340M1339 331L1339 332M1350 331L1347 337M1355 340L1347 339M1271 297L1269 297M1263 299L1269 297M1273 305L1274 304M1274 304L1271 297M1283 305L1275 304M1275 304L1274 304M1376 370L1370 365M1376 370L1384 370M1375 363L1371 364M1371 364L1370 365M1367 367L1370 365M1377 382L1376 370M1370 357L1371 364M1356 354L1356 354M1343 348L1345 345M1343 348L1352 349M1352 349L1347 345M1345 345L1347 345M1341 351L1343 348M1333 344L1333 345M1333 344L1334 342M1345 342L1345 345M1353 350L1352 349M1352 345L1347 345M1370 418L1368 417M1370 418L1373 418M1368 417L1369 410M1373 418L1377 416M1377 416L1369 410M1368 417L1368 417M1367 405L1369 410M1379 415L1377 416M1257 412L1265 409M1257 412L1254 416M1255 418L1254 416M1255 418L1270 413M1270 413L1265 409M1261 399L1265 409M1258 397L1257 412M1248 406L1249 412M1249 412L1254 416M1276 410L1272 414M1272 414L1270 413M1258 423L1257 422M1272 414L1272 419M1255 418L1255 420M1257 422L1255 420M1283 426L1291 413M1291 413L1295 427M1276 426L1283 426M1292 410L1291 413M1295 427L1295 427M1244 423L1242 417M1244 423L1233 427M1233 427L1239 417M1242 417L1239 417M1237 415L1239 417M1249 412L1242 417M1319 407L1314 399M1332 406L1331 407M1324 393L1321 393M1314 399L1321 393M1266 358L1266 356M1253 350L1264 351M1264 351L1266 356M1272 371L1279 370M1266 356L1271 354M1271 354L1279 362M1279 370L1279 362M1283 344L1278 350M1278 350L1278 341M1280 340L1279 340M1278 341L1279 340M1280 332L1273 335M1279 340L1273 335M1282 316L1277 315M1282 316L1281 322M1281 322L1272 322M1277 315L1270 314M1272 322L1269 316M1270 314L1269 316M1284 313L1282 316M1275 304L1277 315M1283 326L1281 322M1280 330L1270 327M1270 327L1272 322M1270 311L1270 314M1258 316L1265 317M1265 317L1269 316M1308 417L1308 425M1308 417L1300 412M1307 426L1308 425M1293 409L1294 409M1300 412L1294 409M1308 417L1308 417M1308 417L1310 401M1300 412L1310 401M1308 417L1312 415M1314 399L1312 398M1310 401L1312 398M1326 330L1327 331M1326 330L1319 331M1328 334L1327 331M1328 334L1327 340M1327 340L1321 342M1321 342L1318 333M1319 331L1318 333M1337 330L1327 331M1331 317L1326 330M1311 318L1319 331M1333 338L1328 334M1333 344L1327 340M1320 348L1321 342M1309 339L1318 333M1327 421L1327 421M1330 426L1329 427M1327 421L1330 426M1244 423L1254 421M1255 420L1254 421M1244 423L1244 423M1253 339L1258 339M1253 348L1261 342M1261 342L1258 339M1264 351L1263 345M1261 342L1263 345M1255 326L1261 330M1258 339L1261 330M1265 317L1263 330M1270 327L1267 330M1267 330L1263 330M1261 330L1263 330M1307 360L1305 362M1314 371L1310 371M1305 362L1310 371M1292 354L1299 363M1305 362L1299 363M1286 371L1288 354M1286 371L1284 370M1284 370L1284 358M1284 358L1286 355M1286 355L1288 354M1289 354L1288 354M1290 373L1296 370M1290 373L1286 371M1296 370L1299 363M1285 389L1289 381M1289 381L1290 373M1279 370L1284 370M1279 362L1284 358M1277 352L1275 352M1277 352L1286 355M1271 354L1275 352M1278 350L1277 352M1275 352L1273 344M1263 345L1267 343M1273 344L1267 343M1320 379L1317 383M1321 393L1316 387M1317 383L1316 387M1294 409L1305 397M1312 398L1309 396M1305 397L1309 396M1316 387L1310 390M1309 396L1310 390M1311 377L1311 382M1311 377L1305 375M1303 379L1310 383M1303 379L1303 376M1311 382L1310 383M1305 375L1303 376M1320 373L1311 377M1317 383L1311 382M1310 371L1305 375M1289 381L1302 383M1302 383L1303 379M1296 370L1303 376M1310 390L1309 388M1309 388L1310 383M1275 342L1272 335M1275 342L1274 342M1274 342L1270 339M1270 339L1271 335M1272 335L1271 335M1278 341L1275 342M1273 335L1272 335M1273 344L1274 342M1267 343L1270 339M1267 330L1271 335M1296 391L1304 396M1296 391L1302 386M1304 396L1303 386M1302 386L1303 386M1287 392L1296 391M1305 397L1304 396M1302 383L1302 386M1309 388L1303 386" fill="none" stroke="#C9A8A0" stroke-width="0.7" opacity="0.35"/>
<path d="M1221 549L1224 556M1282 436L1282 435M1312 496L1316 490M1312 496L1305 487M1306 483L1305 487M1306 483L1315 488M1315 488L1316 490M1375 562L1379 544M1380 544L1379 544M1248 436L1257 433M1309 435L1303 439M1303 439L1297 434M1282 435L1295 436M1295 436L1297 434M1291 498L1290 499M1291 498L1293 498M1293 498L1297 500M1297 500L1306 511M1290 499L1296 513M1296 513L1306 512M1306 512L1306 511M1297 500L1312 499M1306 511L1312 499M1293 498L1300 488M1300 488L1305 487M1312 496L1313 498M1312 499L1313 498M1280 508L1282 513M1280 508L1290 499M1296 513L1293 517M1293 517L1282 513M1318 485L1321 489M1318 485L1317 482M1317 482L1320 480M1320 480L1326 485M1326 485L1323 489M1323 489L1321 489M1315 488L1318 485M1316 490L1321 489M1308 479L1317 482M1308 479L1306 483M1317 554L1322 561M1317 554L1311 555M1307 558L1311 555M1307 558L1319 565M1319 565L1322 561M1337 567L1338 567M1321 544L1326 543M1321 544L1316 534M1316 534L1325 528M1325 528L1328 542M1328 542L1326 543M1319 546L1321 544M1319 546L1312 544M1313 533L1312 544M1313 533L1316 534M1305 527L1309 531M1305 527L1309 522M1321 522L1309 522M1321 522L1326 526M1326 526L1325 528M1309 531L1313 533M1339 532L1335 539M1339 532L1334 524M1334 524L1326 526M1333 541L1335 539M1333 541L1328 542M1330 554L1326 543M1330 554L1338 551M1338 551L1333 541M1353 533L1370 538M1353 533L1353 540M1370 538L1371 540M1371 540L1368 543M1353 540L1357 542M1368 543L1357 542M1371 562L1367 553M1371 562L1364 566M1353 549L1363 551M1353 549L1359 565M1367 553L1363 551M1364 566L1359 565M1371 540L1376 542M1376 542L1379 544M1375 562L1371 562M1368 543L1367 553M1350 546L1353 540M1350 546L1353 549M1357 542L1363 551M1353 566L1359 565M1233 565L1239 566M1224 556L1226 556M1226 556L1233 565M1221 549L1220 546M1219 545L1220 546M1228 530L1231 523M1228 530L1228 531M1228 531L1236 532M1236 532L1237 524M1231 523L1237 524M1222 436L1222 437M1247 441L1238 447M1247 441L1250 443M1250 443L1252 452M1238 447L1240 450M1240 450L1248 454M1252 452L1248 454M1248 436L1247 441M1238 447L1238 447M1256 453L1252 452M1256 453L1260 461M1247 464L1260 461M1247 464L1248 454M1238 447L1233 450M1224 448L1222 437M1224 448L1228 450M1233 450L1228 450M1240 450L1239 461M1233 450L1233 457M1239 461L1233 457M1223 464L1222 465M1224 463L1228 450M1224 463L1223 464M1291 498L1285 491M1285 491L1282 477M1300 488L1285 474M1282 477L1285 474M1285 474L1285 474M1282 477L1275 478M1275 478L1267 475M1267 475L1277 458M1285 474L1277 458M1262 463L1262 473M1262 463L1276 456M1267 475L1262 473M1276 456L1277 458M1285 491L1281 492M1274 507L1270 502M1274 507L1280 508M1281 492L1272 496M1270 502L1272 496M1259 440L1268 435M1259 440L1260 442M1260 442L1261 443M1261 443L1269 437M1269 437L1268 435M1257 433L1259 440M1250 443L1260 442M1256 453L1262 446M1262 446L1261 443M1320 442L1319 445M1320 442L1310 436M1319 445L1310 447M1310 436L1309 435M1303 441L1303 439M1303 441L1308 445M1308 445L1310 447M1322 439L1331 435M1310 436L1314 433M1320 442L1322 439M1339 532L1352 532M1334 524L1336 521M1336 521L1350 522M1350 522L1352 532M1353 533L1353 532M1350 546L1349 546M1335 539L1349 546M1352 532L1353 532M1315 510L1318 501M1315 510L1323 514M1323 514L1329 508M1329 508L1323 500M1323 500L1318 501M1308 515L1315 510M1308 515L1306 512M1313 498L1318 501M1321 522L1323 514M1309 522L1308 515M1336 521L1336 518M1336 518L1331 508M1331 508L1329 508M1325 496L1323 500M1325 496L1323 489M1290 541L1284 540M1290 541L1298 528M1283 539L1284 540M1283 539L1282 526M1282 526L1282 526M1282 526L1295 526M1298 528L1295 526M1272 527L1282 526M1272 527L1278 537M1278 537L1283 539M1293 517L1295 526M1282 513L1282 526M1305 527L1303 528M1303 528L1298 528M1287 563L1279 565M1287 563L1289 562M1279 567L1279 565M1272 542L1274 538M1272 542L1269 542M1269 542L1266 536M1274 538L1270 527M1266 536L1269 526M1270 527L1269 526M1278 545L1284 540M1278 545L1272 542M1278 537L1274 538M1272 527L1270 527M1274 507L1270 513M1266 523L1267 524M1266 523L1267 520M1267 524L1269 526M1267 520L1270 513M1384 454L1378 453M1378 453L1378 448M1378 448L1383 439M1382 432L1382 432M1382 432L1382 434M1383 439L1382 434M1376 542L1383 529M1301 567L1298 567M1307 560L1301 567M1307 560L1307 559M1307 559L1307 558M1307 559L1297 555M1297 555L1298 567M1289 562L1294 553M1294 553L1295 552M1297 555L1295 552M1319 546L1317 554M1312 544L1311 544M1311 555L1307 549M1307 549L1311 544M1309 531L1311 543M1311 544L1311 543M1353 566L1350 564M1338 567L1339 564M1339 564L1350 564M1330 556L1324 561M1330 556L1337 560M1337 560L1337 560M1337 560L1330 565M1324 561L1329 565M1329 565L1330 565M1330 554L1330 556M1322 561L1324 561M1337 567L1330 565M1339 564L1337 560M1266 523L1265 523M1267 520L1256 510M1256 510L1252 512M1252 512L1255 522M1265 523L1255 522M1267 524L1259 531M1266 536L1260 538M1259 531L1260 538M1265 548L1269 542M1265 548L1258 539M1258 539L1260 538M1245 546L1250 547M1245 546L1242 550M1242 550L1243 562M1250 547L1251 561M1250 547L1250 547M1251 561L1243 562M1255 549L1256 564M1255 549L1250 547M1256 564L1251 561M1265 548L1265 551M1255 549L1265 551M1254 540L1258 539M1254 540L1250 547M1224 475L1220 469M1222 465L1220 469M1232 473L1227 464M1232 473L1237 466M1237 466L1230 463M1227 464L1230 463M1229 479L1224 475M1229 479L1232 473M1224 463L1227 464M1239 461L1240 466M1240 466L1237 466M1233 457L1230 463M1228 536L1228 531M1228 530L1224 529M1262 499L1268 501M1262 499L1258 500M1268 501L1258 509M1258 500L1256 510M1258 509L1256 510M1270 513L1258 509M1270 502L1268 501M1256 510L1256 510M1281 492L1274 489M1275 478L1274 479M1274 479L1274 489M1272 496L1271 495M1274 489L1271 495M1338 450L1339 452M1338 450L1319 446M1339 452L1332 457M1332 457L1321 454M1321 454L1320 453M1319 446L1320 453M1336 444L1346 440M1336 444L1333 437M1333 437L1346 435M1346 440L1346 435M1319 445L1319 446M1331 435L1333 437M1338 450L1336 444M1348 433L1346 435M1348 442L1346 440M1348 442L1348 433M1311 455L1310 449M1311 455L1305 453M1305 453L1310 449M1310 447L1310 449M1314 458L1317 456M1314 458L1311 455M1317 456L1320 453M1308 445L1303 453M1303 453L1305 453M1336 518L1342 515M1331 508L1337 505M1342 515L1337 505M1347 514L1346 503M1347 514L1344 514M1346 503L1345 502M1344 514L1341 503M1345 502L1341 503M1344 514L1342 515M1337 505L1340 503M1341 503L1340 503M1370 538L1372 530M1353 532L1353 532M1372 530L1353 532M1265 553L1259 564M1265 553L1269 554M1269 554L1271 564M1271 564L1265 566M1265 566L1259 564M1265 551L1265 553M1256 564L1257 565M1257 565L1259 564M1278 545L1278 547M1278 547L1270 554M1270 554L1269 554M1279 567L1271 564M1279 565L1278 558M1270 554L1278 558M1283 550L1288 553M1283 550L1280 549M1280 549L1280 555M1280 555L1283 555M1283 555L1288 553M1290 541L1283 550M1290 541L1296 549M1294 553L1288 553M1296 549L1295 552M1290 541L1290 541M1278 547L1280 549M1278 558L1280 555M1287 563L1283 555M1314 474L1317 466M1314 474L1324 474M1317 466L1322 466M1324 474L1326 473M1326 473L1326 468M1326 468L1323 466M1323 466L1322 466M1308 479L1308 476M1308 476L1314 474M1320 480L1324 474M1312 461L1317 466M1312 461L1314 458M1317 456L1322 466M1330 483L1330 475M1330 483L1326 485M1330 475L1326 473M1341 473L1330 475M1341 473L1341 473M1341 473L1331 461M1331 461L1326 468M1331 461L1332 457M1321 454L1323 466M1379 479L1376 471M1341 473L1349 463M1339 452L1341 453M1341 453L1349 463M1378 453L1374 455M1376 471L1374 471M1374 455L1374 471M1378 448L1373 443M1382 434L1377 437M1373 443L1377 437M1377 437L1372 438M1296 549L1301 548M1296 549L1304 538M1301 548L1307 542M1304 538L1307 542M1296 549L1296 549M1307 549L1301 548M1303 528L1304 538M1311 543L1307 542M1347 558L1337 560M1347 558L1346 550M1337 560L1341 552M1346 550L1341 552M1350 564L1347 558M1337 560L1337 560M1349 546L1346 550M1338 551L1341 552M1239 566L1240 565M1243 562L1242 562M1240 565L1242 562M1253 482L1252 482M1253 482L1245 468M1252 482L1241 475M1241 475L1244 468M1244 468L1244 467M1245 468L1244 467M1262 473L1256 481M1262 473L1245 468M1256 481L1253 482M1233 486L1233 485M1233 486L1242 491M1233 485L1241 475M1242 491L1242 490M1242 490L1252 482M1233 485L1229 479M1240 466L1244 468M1247 464L1244 467M1262 463L1260 461M1262 473L1262 473M1258 485L1258 489M1258 485L1268 487M1268 487L1268 488M1268 488L1261 494M1261 494L1258 489M1242 490L1257 490M1256 481L1258 485M1257 490L1258 489M1274 479L1268 487M1271 495L1268 488M1262 499L1261 494M1226 516L1224 521M1227 513L1227 513M1227 513L1226 516M1227 513L1225 511M1231 523L1227 513M1224 529L1224 521M1252 512L1251 512M1251 512L1249 509M1258 500L1251 499M1249 509L1251 499M1233 486L1231 487M1242 491L1242 493M1231 487L1228 496M1227 503L1228 496M1227 503L1240 501M1240 501L1242 493M1257 490L1249 497M1242 493L1249 497M1251 499L1249 497M1227 503L1226 505M1228 496L1219 496M1226 505L1219 496M1308 476L1304 472M1312 461L1307 464M1307 464L1304 472M1285 474L1291 471M1304 472L1291 471M1325 496L1333 493M1340 503L1337 496M1333 493L1337 496M1360 511L1354 509M1360 511L1357 519M1354 509L1350 516M1350 516L1351 518M1351 518L1357 519M1347 514L1350 516M1346 503L1353 506M1353 506L1354 509M1350 522L1351 518M1383 529L1380 524M1372 530L1375 526M1375 526L1380 524M1368 505L1377 504M1368 505L1367 509M1367 509L1385 518M1380 524L1385 518M1348 442L1351 444M1341 453L1349 447M1351 444L1349 447M1349 463L1349 463M1349 463L1357 453M1349 447L1357 453M1349 463L1357 467M1357 467L1361 462M1357 453L1360 450M1361 462L1360 450M1236 551L1234 553M1236 551L1232 541M1234 553L1231 554M1232 541L1231 541M1229 554L1231 541M1229 554L1231 554M1231 541L1231 541M1242 550L1236 551M1242 562L1234 553M1245 546L1242 542M1240 539L1242 542M1240 539L1232 541M1240 565L1231 554M1228 536L1231 541M1236 532L1240 535M1240 535L1240 539M1226 556L1229 554M1220 546L1231 541M1253 536L1253 532M1253 536L1248 536M1248 536L1244 531M1253 532L1253 532M1253 532L1249 526M1244 531L1247 526M1247 526L1249 526M1259 531L1253 532M1254 540L1253 536M1242 542L1248 536M1240 535L1244 531M1265 523L1253 532M1255 522L1249 526M1237 524L1242 522M1242 522L1247 526M1240 505L1243 507M1240 505L1234 513M1243 507L1241 517M1234 513L1241 518M1241 518L1241 517M1249 509L1243 507M1240 501L1240 505M1227 513L1234 513M1225 511L1225 506M1225 506L1226 505M1251 512L1241 517M1242 522L1241 518M1231 487L1222 489M1222 489L1219 487M1298 450L1291 454M1298 450L1301 454M1291 454L1295 460M1295 460L1301 457M1301 454L1301 457M1303 441L1297 447M1303 453L1301 454M1297 447L1298 450M1292 467L1295 460M1292 467L1287 454M1287 454L1291 454M1307 464L1301 457M1291 471L1292 467M1295 436L1292 441M1297 447L1295 445M1292 441L1295 445M1330 483L1334 486M1333 493L1334 490M1334 486L1334 490M1370 523L1366 510M1370 523L1363 522M1361 520L1363 522M1361 520L1363 511M1363 511L1366 510M1367 509L1366 510M1375 526L1370 523M1353 532L1363 522M1357 519L1361 520M1360 511L1363 511M1367 503L1367 500M1367 503L1356 502M1367 500L1365 496M1365 496L1357 496M1356 502L1357 496M1357 496L1357 496M1353 506L1356 502M1368 505L1367 503M1366 492L1365 496M1366 492L1359 483M1359 483L1357 496M1345 502L1346 500M1346 500L1351 494M1351 494L1357 496M1359 483L1359 481M1359 481L1351 494M1351 494L1351 494M1361 478L1375 488M1361 478L1359 481M1359 481L1359 481M1366 492L1373 489M1375 488L1373 489M1367 500L1371 498M1373 489L1371 498M1373 443L1372 442M1372 438L1372 442M1372 442L1372 442M1282 436L1276 447M1282 436L1288 440M1288 440L1289 447M1276 447L1276 450M1289 447L1282 452M1276 450L1277 452M1277 452L1282 452M1282 436L1282 436M1269 437L1276 447M1292 441L1288 440M1295 445L1289 447M1262 446L1276 450M1287 454L1282 452M1276 456L1277 452M1346 487L1343 491M1346 487L1347 483M1347 483L1344 481M1340 490L1339 484M1340 490L1342 491M1344 481L1339 484M1342 491L1343 491M1346 500L1343 491M1351 494L1346 487M1359 481L1347 483M1361 478L1362 474M1341 473L1344 481M1362 474L1357 467M1334 486L1339 484M1334 490L1340 490M1337 496L1342 491M1379 485L1376 488M1376 488L1379 496M1379 497L1379 496M1379 479L1379 485M1374 471L1362 474M1375 488L1376 488M1371 498L1379 496M1377 504L1379 497M1351 444L1358 441M1360 450L1360 450M1360 450L1358 441M1372 442L1366 442M1366 442L1359 437M1359 437L1358 441M1361 462L1370 455M1360 450L1363 451M1363 451L1370 455M1374 455L1372 455M1372 455L1370 455M1369 446L1367 443M1369 446L1370 450M1370 450L1366 446M1367 443L1366 446M1372 442L1369 446M1366 442L1367 443M1372 455L1370 450M1363 451L1366 446" fill="none" stroke="#E49A8A" stroke-width="0.7" opacity="0.22"/>
<path d="M1222 656L1220 645M1384 704L1381 705M1370 669L1353 666M1370 669L1365 660M1365 660L1353 665M1353 666L1353 665M1364 680L1359 677M1364 680L1367 679M1367 679L1372 673M1372 673L1370 669M1352 668L1359 677M1352 668L1353 666M1226 572L1223 575M1223 575L1220 575M1277 574L1276 575M1277 574L1284 587M1276 575L1276 592M1276 592L1277 592M1277 592L1277 592M1277 592L1280 591M1280 591L1284 587M1287 573L1284 586M1284 586L1284 587M1220 645L1221 642M1222 656L1229 658M1229 658L1230 644M1221 642L1222 641M1222 641L1222 642M1230 644L1222 642M1378 699L1379 695M1362 704L1367 698M1373 701L1368 699M1373 701L1374 704M1367 698L1368 699M1376 689L1379 695M1376 689L1368 699M1378 699L1373 701M1381 705L1374 704M1364 680L1361 687M1361 687L1367 698M1376 689L1376 688M1376 688L1367 679M1382 682L1379 688M1383 689L1379 688M1375 672L1374 672M1374 672L1382 682M1376 688L1379 688M1372 673L1374 672M1378 663L1373 654M1373 654L1380 652M1380 652L1381 652M1375 672L1378 663M1366 656L1365 660M1366 656L1371 654M1371 654L1373 654M1384 649L1385 640M1381 652L1384 649M1380 579L1382 580M1377 578L1380 579M1319 675L1305 674M1319 675L1320 674M1320 671L1309 667M1320 671L1320 671M1320 674L1321 673M1320 671L1321 673M1305 674L1309 667M1221 694L1224 702M1224 707L1224 702M1334 693L1330 688M1334 693L1341 685M1330 688L1334 676M1341 685L1343 682M1334 676L1341 676M1341 676L1343 680M1343 680L1343 682M1321 692L1321 693M1321 692L1320 688M1321 693L1329 697M1320 688L1323 684M1323 684L1330 688M1334 696L1329 697M1334 696L1334 693M1320 674L1323 684M1325 673L1321 673M1325 673L1334 676M1348 700L1353 689M1348 700L1341 685M1353 689L1343 682M1352 668L1342 673M1359 677L1343 680M1342 673L1341 676M1361 687L1353 689M1256 572L1264 574M1270 576L1268 586M1270 576L1264 574M1264 574L1260 584M1268 586L1260 584M1276 575L1270 576M1264 574L1264 574M1236 573L1237 573M1237 573L1245 573M1246 572L1245 573M1228 584L1223 575M1228 584L1228 584M1228 584L1236 573M1240 587L1248 580M1240 587L1237 573M1248 580L1245 573M1228 584L1219 584M1244 665L1248 663M1244 665L1235 657M1235 657L1245 650M1248 663L1248 656M1248 656L1245 650M1245 650L1245 650M1230 659L1229 658M1230 659L1235 657M1230 644L1237 641M1245 650L1237 641M1366 656L1361 652M1353 665L1353 664M1353 664L1352 651M1361 652L1352 651M1291 636L1292 637M1291 636L1286 637M1286 637L1283 646M1283 646L1285 647M1285 647L1290 644M1292 637L1290 644M1289 655L1285 647M1289 655L1290 653M1290 644L1290 653M1320 670L1313 660M1320 670L1318 655M1313 660L1318 655M1287 573L1290 573M1284 586L1296 586M1290 573L1294 576M1294 576L1296 586M1296 586L1296 586M1230 659L1230 661M1244 665L1238 672M1238 672L1230 661M1230 661L1226 667M1221 694L1227 692M1227 692L1232 684M1220 673L1219 675M1224 672L1226 667M1224 672L1220 673M1224 672L1234 679M1234 679L1232 684M1232 684L1219 675M1232 684L1232 684M1232 684L1232 684M1222 642L1228 636M1237 641L1238 636M1228 636L1238 636M1222 641L1222 635M1228 636L1228 632M1228 632L1225 632M1222 635L1225 632M1334 659L1335 661M1334 659L1336 657M1336 657L1341 655M1335 661L1339 665M1339 665L1344 661M1344 661L1344 654M1344 654L1341 655M1326 656L1334 659M1326 656L1320 671M1325 673L1335 661M1335 648L1336 657M1335 648L1337 648M1337 648L1341 655M1342 673L1339 665M1353 664L1344 661M1352 651L1349 649M1349 649L1344 654M1337 648L1345 643M1345 643L1348 644M1348 644L1349 649M1348 700L1347 701M1334 696L1337 698M1337 698L1347 701M1362 704L1350 706M1347 701L1350 706M1350 706L1350 707M1227 692L1227 699M1227 692L1230 696M1230 696L1227 699M1227 692L1227 692M1224 702L1227 699M1256 572L1256 584M1256 572L1249 580M1249 580L1256 584M1256 572L1256 572M1258 586L1256 584M1258 586L1260 584M1248 580L1249 580M1258 586L1256 591M1256 591L1253 592M1253 592L1240 588M1240 588L1240 587M1259 592L1261 596M1259 592L1270 588M1261 596L1269 596M1269 596L1274 592M1270 588L1274 592M1256 591L1259 592M1268 586L1270 588M1276 592L1274 592M1263 604L1261 597M1263 604L1256 606M1261 597L1256 602M1256 606L1256 602M1269 607L1269 596M1269 607L1263 604M1261 596L1261 597M1253 592L1252 597M1252 597L1256 602M1219 589L1230 587M1230 587L1231 588M1231 588L1219 597M1219 584L1219 589M1228 584L1230 587M1240 588L1239 589M1231 588L1231 588M1231 588L1239 589M1219 597L1220 602M1278 651L1289 655M1278 651L1278 649M1283 646L1282 646M1289 655L1289 655M1278 649L1282 646M1289 659L1282 663M1289 659L1289 655M1278 651L1273 658M1272 661L1282 663M1272 661L1272 660M1272 660L1273 658M1260 664L1259 663M1260 664L1260 675M1259 663L1250 664M1260 675L1251 671M1251 671L1250 664M1260 652L1265 654M1260 652L1256 658M1256 658L1259 663M1265 654L1268 659M1268 659L1260 664M1256 658L1248 656M1248 663L1250 664M1277 592L1272 609M1269 607L1270 609M1270 609L1272 609M1281 606L1280 607M1281 606L1277 592M1280 607L1273 609M1273 609L1272 609M1260 652L1254 646M1245 650L1253 646M1254 646L1253 646M1384 609L1379 604M1374 583L1377 578M1374 583L1383 593M1345 643L1335 638M1348 644L1350 640M1347 633L1350 640M1347 633L1339 634M1339 634L1335 638M1371 654L1371 646M1380 652L1377 643M1371 646L1377 643M1361 652L1364 642M1371 646L1364 642M1385 640L1379 638M1377 643L1379 638M1286 614L1283 620M1286 614L1278 617M1283 620L1279 620M1279 620L1277 618M1278 617L1277 618M1280 607L1286 614M1286 614L1286 614M1273 609L1278 617M1279 627L1279 620M1279 627L1284 626M1284 626L1283 620M1292 637L1294 638M1294 638L1298 649M1290 653L1297 650M1297 650L1298 649M1324 654L1335 648M1324 654L1322 651M1322 651L1320 645M1320 645L1329 641M1335 648L1329 641M1326 656L1324 654M1335 648L1335 648M1320 671L1320 670M1318 655L1322 651M1333 637L1335 638M1333 637L1329 641M1297 589L1296 586M1297 589L1311 593M1296 586L1304 583M1304 583L1311 593M1283 593L1293 594M1283 593L1287 602M1293 594L1288 602M1287 602L1288 602M1281 606L1287 602M1280 591L1283 593M1297 589L1296 591M1293 594L1294 593M1296 591L1294 593M1302 572L1305 582M1309 572L1313 574M1313 574L1313 578M1313 578L1312 581M1305 582L1312 581M1294 576L1302 572M1304 583L1305 582M1316 587L1312 581M1316 587L1311 593M1311 593L1311 593M1225 632L1224 626M1361 585L1366 576M1361 585L1354 583M1354 583L1354 580M1354 580L1366 576M1366 576L1366 576M1371 585L1366 576M1371 585L1369 587M1369 587L1364 588M1364 588L1361 585M1374 583L1371 585M1367 573L1366 576M1337 698L1335 704M1321 692L1311 698M1321 693L1320 699M1311 698L1320 699M1329 697L1324 702M1320 699L1324 702M1298 684L1302 679M1298 684L1298 685M1298 685L1308 682M1302 679L1303 677M1303 677L1308 682M1295 681L1295 678M1295 681L1298 684M1295 678L1302 679M1319 675L1310 684M1305 674L1303 674M1303 674L1303 677M1310 684L1308 682M1284 708L1284 706M1284 706L1286 704M1286 704L1296 704M1295 707L1296 704M1293 692L1286 704M1293 692L1287 690M1286 704L1285 692M1287 690L1286 690M1285 692L1286 690M1286 704L1286 704M1297 697L1294 692M1297 697L1297 703M1294 692L1293 692M1297 703L1296 704M1295 681L1288 679M1288 679L1287 690M1298 687L1294 692M1298 687L1298 685M1284 706L1282 704M1279 699L1285 692M1279 699L1279 701M1282 704L1279 701M1295 675L1287 676M1295 675L1298 673M1298 673L1293 667M1293 667L1286 675M1286 675L1287 676M1295 678L1295 675M1288 679L1287 676M1303 674L1302 674M1302 674L1298 673M1302 665L1293 663M1302 665L1306 661M1306 661L1307 659M1291 661L1293 663M1291 661L1303 656M1303 656L1306 658M1307 659L1306 658M1302 674L1302 665M1293 667L1293 663M1309 667L1306 661M1313 660L1307 659M1289 659L1291 661M1284 674L1282 663M1284 674L1286 675M1297 650L1303 656M1298 649L1309 645M1309 645L1311 645M1311 645L1306 658M1319 644L1311 645M1319 644L1320 645M1230 696L1231 696M1231 696L1236 702M1284 674L1279 676M1286 690L1283 689M1283 689L1279 676M1272 661L1271 677M1279 676L1271 677M1279 701L1272 700M1227 599L1229 592M1227 599L1232 598M1232 598L1229 592M1231 588L1229 592M1223 604L1220 602M1223 604L1227 599M1223 604L1225 607M1225 607L1228 607M1228 607L1236 598M1236 598L1232 598M1224 626L1224 624M1220 623L1224 624M1235 627L1242 614M1235 627L1228 620M1242 614L1228 620M1228 620L1228 620M1231 631L1236 631M1231 631L1225 624M1236 631L1235 627M1228 620L1225 624M1231 631L1228 632M1225 624L1224 624M1250 598L1244 609M1250 598L1239 594M1244 609L1239 596M1239 594L1239 596M1252 597L1250 598M1239 589L1239 594M1228 607L1243 611M1236 598L1239 596M1244 610L1243 611M1244 610L1244 609M1354 580L1353 577M1384 609L1382 613M1382 613L1382 615M1382 615L1382 615M1385 622L1382 621M1382 615L1382 621M1294 638L1302 637M1309 645L1304 638M1302 637L1304 638M1286 614L1287 614M1288 602L1289 603M1289 603L1287 614M1291 619L1303 618M1291 619L1290 627M1291 628L1306 623M1291 628L1290 627M1303 618L1307 622M1306 623L1307 622M1284 626L1290 627M1287 614L1289 615M1289 615L1291 619M1291 636L1291 628M1302 637L1306 623M1313 578L1323 579M1323 579L1324 574M1333 572L1333 573M1324 574L1333 573M1296 591L1302 599M1294 593L1296 604M1302 599L1296 604M1311 593L1311 601M1302 599L1311 601M1289 603L1295 605M1296 604L1295 605M1369 587L1374 594M1364 588L1363 593M1363 593L1364 595M1364 595L1374 594M1360 605L1364 605M1360 605L1351 601M1363 593L1352 598M1364 605L1365 597M1352 598L1351 601M1364 595L1365 597M1383 593L1377 596M1377 596L1374 594M1360 605L1359 613M1359 613L1355 614M1351 601L1351 602M1351 602L1355 613M1355 614L1355 613M1348 603L1351 602M1348 603L1346 609M1355 613L1346 609M1351 586L1341 581M1351 586L1349 590M1349 590L1344 590M1344 590L1339 587M1339 587L1339 584M1339 584L1341 581M1354 583L1351 586M1352 598L1349 590M1334 591L1340 594M1334 591L1339 587M1340 594L1344 590M1335 583L1332 577M1335 583L1339 584M1333 573L1332 577M1307 698L1303 688M1307 698L1310 699M1310 699L1311 698M1311 698L1311 688M1311 688L1310 686M1310 686L1303 688M1298 687L1303 688M1297 697L1307 698M1320 688L1311 688M1311 698L1311 698M1310 684L1310 686M1244 688L1244 678M1244 688L1237 677M1238 675L1237 677M1238 675L1243 677M1243 677L1244 678M1238 672L1238 675M1234 679L1237 677M1251 671L1243 677M1261 677L1254 681M1261 677L1260 675M1254 681L1249 681M1249 681L1244 678M1268 679L1275 692M1268 679L1270 678M1270 678L1280 689M1280 689L1276 692M1276 692L1275 692M1261 677L1267 679M1267 679L1268 679M1268 659L1272 660M1271 677L1270 678M1283 689L1280 689M1279 699L1276 692M1254 682L1246 692M1254 682L1256 694M1256 694L1245 694M1246 692L1245 694M1245 694L1245 694M1254 681L1254 682M1249 681L1246 692M1244 688L1245 694M1244 695L1243 698M1244 695L1234 687M1243 698L1232 694M1234 687L1232 694M1232 684L1234 687M1245 694L1244 695M1231 696L1232 694M1236 702L1243 699M1243 699L1243 698M1225 608L1224 614M1225 607L1225 608M1243 611L1243 614M1242 614L1243 614M1228 620L1224 614M1267 649L1272 647M1267 649L1265 643M1265 643L1268 640M1268 640L1274 644M1272 647L1274 645M1274 645L1274 644M1265 654L1267 649M1273 658L1272 647M1254 646L1258 643M1258 643L1265 643M1278 649L1274 645M1274 630L1273 630M1274 630L1274 630M1273 630L1277 642M1274 630L1284 637M1284 637L1278 641M1278 641L1277 642M1279 627L1274 630M1271 622L1277 618M1271 622L1274 630M1269 633L1268 640M1269 633L1273 630M1274 644L1277 642M1286 637L1284 637M1282 646L1278 641M1270 609L1269 610M1271 622L1266 617M1269 610L1266 617M1256 606L1254 609M1269 610L1254 609M1244 610L1254 609M1254 609L1254 609M1266 617L1264 618M1254 609L1258 615M1264 618L1258 615M1243 614L1244 616M1258 615L1254 620M1244 616L1254 620M1262 621L1264 618M1262 621L1262 621M1262 621L1254 621M1254 620L1254 621M1350 640L1359 636M1364 642L1364 641M1359 636L1364 641M1379 638L1378 636M1364 641L1378 636M1382 632L1377 634M1377 634L1378 636M1366 618L1358 625M1366 618L1367 618M1367 618L1375 627M1358 625L1360 634M1360 634L1375 629M1375 627L1375 629M1382 615L1367 618M1382 621L1375 627M1367 618L1367 618M1359 636L1360 634M1377 634L1375 629M1319 644L1317 630M1304 638L1317 630M1317 630L1317 630M1333 637L1330 626M1317 630L1330 626M1307 622L1310 622M1317 630L1310 622M1324 581L1328 582M1324 581L1319 587M1328 582L1331 586M1319 587L1325 592M1325 592L1330 591M1331 586L1330 591M1330 591L1330 591M1323 579L1324 581M1332 577L1328 582M1316 587L1319 587M1335 583L1331 586M1334 591L1334 591M1334 591L1330 591M1292 612L1296 607M1292 612L1303 617M1296 607L1301 610M1303 617L1301 610M1289 615L1292 612M1295 605L1296 607M1303 618L1303 617M1311 601L1312 602M1312 602L1301 610M1376 599L1372 599M1376 599L1376 602M1372 599L1365 605M1376 602L1373 609M1373 609L1370 610M1370 610L1365 605M1365 597L1372 599M1377 596L1376 599M1379 604L1376 602M1364 605L1365 605M1382 613L1373 609M1367 618L1370 610M1359 613L1366 618M1355 614L1353 616M1358 625L1355 624M1355 624L1353 616M1346 609L1344 614M1353 616L1344 614M1310 699L1310 702M1244 702L1248 704M1243 699L1244 702M1253 703L1248 704M1253 703L1254 706M1258 705L1254 706M1269 633L1268 632M1262 621L1265 630M1265 630L1268 632M1262 621L1254 629M1265 630L1254 629M1260 638L1258 643M1260 638L1262 635M1268 632L1262 635M1260 638L1253 630M1262 635L1253 630M1254 621L1254 629M1254 629L1254 629M1244 616L1247 626M1254 629L1253 630M1247 626L1253 630M1236 631L1237 632M1247 626L1237 632M1238 636L1238 636M1238 636L1237 632M1253 630L1253 630M1253 630L1253 630M1325 592L1320 606M1330 591L1332 603M1332 603L1320 606M1310 622L1319 609M1331 624L1330 626M1331 624L1327 616M1327 616L1319 609M1312 602L1319 607M1319 609L1319 607M1319 607L1320 606M1347 630L1352 624M1347 630L1342 627M1352 624L1342 617M1342 627L1338 622M1338 622L1342 617M1347 633L1347 630M1355 624L1352 624M1339 634L1342 627M1342 616L1344 614M1342 616L1342 617M1331 624L1338 622M1300 705L1308 706M1308 706L1308 706M1297 703L1300 705M1310 702L1308 706M1252 640L1252 632M1252 640L1243 636M1243 636L1252 632M1253 646L1252 640M1253 630L1252 632M1238 636L1243 636M1333 604L1336 610M1333 604L1336 602M1336 602L1341 601M1337 611L1344 602M1337 611L1336 610M1344 602L1341 601M1332 603L1333 604M1327 616L1336 610M1334 591L1336 602M1340 594L1341 601M1348 603L1344 602M1342 616L1337 611M1272 700L1271 700M1271 700L1269 702M1275 692L1270 695M1271 700L1270 695M1267 679L1265 689M1270 695L1265 689M1265 701L1257 694M1265 701L1262 704M1262 704L1262 704M1262 704L1258 704M1256 701L1256 695M1256 701L1258 704M1256 695L1257 694M1269 702L1265 701M1265 689L1257 694M1258 705L1258 704M1256 694L1256 695M1253 703L1256 701" fill="none" stroke="#E4917F" stroke-width="0.7" opacity="0.36"/>
<text x="1230.47" y="180.80" font-size="29" textLength="143.50" lengthAdjust="spacingAndGlyphs" fill="#000">E3 Control</text>
<text x="1238.50" y="321.30" font-size="29" textLength="126.93" lengthAdjust="spacingAndGlyphs" fill="#000">E3 17αE2</text>
<text x="1230.47" y="459.80" font-size="29" textLength="143.50" lengthAdjust="spacingAndGlyphs" fill="#000">E4 Control</text>
<text x="1238.50" y="601.30" font-size="29" textLength="126.93" lengthAdjust="spacingAndGlyphs" fill="#000">E4 17αE2</text>
<line x1="1350.00" y1="284.70" x2="1380.00" y2="284.70" stroke="#111" stroke-width="2.2"/>
<line x1="1350.00" y1="424.30" x2="1380.00" y2="424.30" stroke="#111" stroke-width="2.2"/>
<line x1="1350.00" y1="562.40" x2="1380.00" y2="562.40" stroke="#111" stroke-width="2.2"/>
<line x1="1350.00" y1="703.00" x2="1380.00" y2="703.00" stroke="#111" stroke-width="2.2"/>
<text x="1544.23" y="116.20" font-size="29" textLength="149.35" lengthAdjust="spacingAndGlyphs" fill="#000">ORO (a.u.)</text>
<line x1="1406.90" y1="194.00" x2="1835.70" y2="194.00" stroke="#000" stroke-width="1.8"/>
<line x1="1406.90" y1="180.00" x2="1406.90" y2="194.90" stroke="#000" stroke-width="1.8"/>
<line x1="1549.70" y1="180.00" x2="1549.70" y2="194.90" stroke="#000" stroke-width="1.8"/>
<line x1="1692.50" y1="180.00" x2="1692.50" y2="194.90" stroke="#000" stroke-width="1.8"/>
<line x1="1835.30" y1="180.00" x2="1835.30" y2="194.90" stroke="#000" stroke-width="1.8"/>
<text x="1399.54" y="172.20" font-size="28" textLength="14.75" lengthAdjust="spacingAndGlyphs" fill="#000">0</text>
<text x="1531.19" y="172.20" font-size="28" textLength="34.32" lengthAdjust="spacingAndGlyphs" fill="#000">10</text>
<text x="1674.78" y="172.20" font-size="28" textLength="33.92" lengthAdjust="spacingAndGlyphs" fill="#000">20</text>
<text x="1817.37" y="172.20" font-size="28" textLength="34.13" lengthAdjust="spacingAndGlyphs" fill="#000">30</text>
<line x1="1406.90" y1="193.10" x2="1406.90" y2="707.50" stroke="#000" stroke-width="1.8"/>
<rect x="1406.90" y="224.50" width="50.80" height="54.50" fill="#0000BF" stroke="#000" stroke-width="2"/>
<g fill="#000"><circle cx="1408.3" cy="228.1" r="4.4"/><circle cx="1417.7" cy="228.1" r="4.4"/><circle cx="1414.7" cy="244.4" r="4.4"/><circle cx="1413.7" cy="260.1" r="4.4"/><circle cx="1414.1" cy="276.1" r="4.4"/><circle cx="1465.2" cy="251.9" r="4.4"/><circle cx="1532.5" cy="251.9" r="4.4"/><circle cx="1609.5" cy="251.9" r="4.4"/></g>
<line x1="1432.60" y1="251.90" x2="1485.50" y2="251.90" stroke="#000" stroke-width="1.7"/>
<line x1="1432.60" y1="238.40" x2="1432.60" y2="266.10" stroke="#000" stroke-width="1.7"/>
<line x1="1485.50" y1="238.40" x2="1485.50" y2="266.10" stroke="#000" stroke-width="1.7"/>
<rect x="1406.90" y="310.60" width="15.80" height="54.00" fill="#C9DCF6" stroke="#000" stroke-width="2"/>
<g fill="#000"><circle cx="1411.3" cy="313.5" r="4.4"/><circle cx="1439.4" cy="313.5" r="4.4"/><circle cx="1414.5" cy="329.4" r="4.4"/><circle cx="1438.4" cy="329.4" r="4.4"/><circle cx="1426.1" cy="337.5" r="4.4"/><circle cx="1413.7" cy="345.7" r="4.4"/><circle cx="1435.4" cy="345.7" r="4.4"/><circle cx="1414.1" cy="361.4" r="4.4"/></g>
<line x1="1419.70" y1="337.70" x2="1428.50" y2="337.70" stroke="#000" stroke-width="1.7"/>
<line x1="1419.70" y1="324.00" x2="1419.70" y2="351.70" stroke="#000" stroke-width="1.7"/>
<line x1="1428.50" y1="324.00" x2="1428.50" y2="351.70" stroke="#000" stroke-width="1.7"/>
<rect x="1406.90" y="494.80" width="160.60" height="53.90" fill="#A00000" stroke="#000" stroke-width="2"/>
<g fill="#000"><circle cx="1477.2" cy="513.0" r="4.4"/><circle cx="1460.9" cy="521.5" r="4.4"/><circle cx="1469.5" cy="530.2" r="4.4"/><circle cx="1537.3" cy="513.0" r="4.4"/><circle cx="1534.1" cy="530.2" r="4.4"/><circle cx="1631.5" cy="521.5" r="4.4"/><circle cx="1695.0" cy="521.5" r="4.4"/><circle cx="1749.8" cy="521.5" r="4.4"/></g>
<line x1="1530.30" y1="521.50" x2="1609.00" y2="521.50" stroke="#000" stroke-width="1.7"/>
<line x1="1530.30" y1="507.70" x2="1530.30" y2="535.40" stroke="#000" stroke-width="1.7"/>
<line x1="1609.00" y1="507.70" x2="1609.00" y2="535.40" stroke="#000" stroke-width="1.7"/>
<rect x="1406.90" y="580.70" width="43.50" height="54.00" fill="#D8B0B0" stroke="#000" stroke-width="2"/>
<g fill="#000"><circle cx="1420.2" cy="590.4" r="4.4"/><circle cx="1423.1" cy="607.6" r="4.4"/><circle cx="1440.5" cy="607.6" r="4.4"/><circle cx="1455.6" cy="607.6" r="4.4"/><circle cx="1494.0" cy="607.6" r="4.4"/><circle cx="1533.9" cy="607.6" r="4.4"/><circle cx="1420.8" cy="624.6" r="4.4"/><circle cx="1430.9" cy="624.6" r="4.4"/></g>
<line x1="1437.40" y1="607.60" x2="1467.20" y2="607.60" stroke="#000" stroke-width="1.7"/>
<line x1="1437.40" y1="594.30" x2="1437.40" y2="621.80" stroke="#000" stroke-width="1.7"/>
<line x1="1467.20" y1="594.30" x2="1467.20" y2="621.80" stroke="#000" stroke-width="1.7"/>
<line x1="1406.90" y1="193.10" x2="1406.90" y2="707.50" stroke="#000" stroke-width="1.8"/>
<path d="M1829.6 256.6 H1851.9 V327.0 H1829.6" fill="none" stroke="#333" stroke-width="1.8"/>
<path d="M1876.6 254.0 H1905.7 V513.7 H1876.6" fill="none" stroke="#333" stroke-width="1.8"/>
<path d="M1826.7 513.7 H1848.9 V583.9 H1826.7" fill="none" stroke="#333" stroke-width="1.8"/>
<path d="M1941.3 256.0 H1969.7 V583.4 H1941.3" fill="none" stroke="#333" stroke-width="1.8"/>
<text transform="translate(1858.50,273.40) rotate(90)" x="-1.65" y="0" font-size="23" textLength="40.99" lengthAdjust="spacingAndGlyphs" fill="#000">n.s.</text>
<text transform="translate(1916.00,362.30) rotate(90)" x="-0.93" y="0" font-size="23" textLength="45.33" lengthAdjust="spacingAndGlyphs" fill="#000">0.01</text>
<text transform="translate(1855.20,519.00) rotate(90)" x="-0.98" y="0" font-size="23" textLength="61.42" lengthAdjust="spacingAndGlyphs" fill="#000">0.005</text>
<text transform="translate(1975.80,401.80) rotate(90)" x="-1.60" y="0" font-size="23" textLength="39.66" lengthAdjust="spacingAndGlyphs" fill="#000">n.s.</text>
<text x="10.29" y="790.80" font-size="39.5" font-weight="bold" textLength="25.11" lengthAdjust="spacingAndGlyphs" fill="#000">c</text>
<text x="212.70" y="959.60" font-size="28.5" font-style="italic" textLength="100.30" lengthAdjust="spacingAndGlyphs" fill="#000">APOE3</text>
<text x="548.01" y="959.60" font-size="28.5" font-style="italic" textLength="100.95" lengthAdjust="spacingAndGlyphs" fill="#000">APOE4</text>
<text x="141.77" y="1008.50" font-size="28" textLength="92.51" lengthAdjust="spacingAndGlyphs" fill="#000">Control</text>
<text x="301.66" y="1008.50" font-size="28" textLength="83.02" lengthAdjust="spacingAndGlyphs" fill="#000">17αE2</text>
<text x="467.97" y="1008.50" font-size="28" textLength="91.99" lengthAdjust="spacingAndGlyphs" fill="#000">Control</text>
<text x="630.26" y="1008.50" font-size="28" textLength="83.02" lengthAdjust="spacingAndGlyphs" fill="#000">17αE2</text>
<line x1="100.80" y1="989.50" x2="100.80" y2="1358.50" stroke="#000" stroke-width="2"/>
<line x1="86.00" y1="1357.60" x2="750.60" y2="1357.60" stroke="#000" stroke-width="2"/>
<line x1="86.00" y1="1357.60" x2="100.80" y2="1357.60" stroke="#000" stroke-width="2"/>
<line x1="86.00" y1="1235.20" x2="100.80" y2="1235.20" stroke="#000" stroke-width="2"/>
<line x1="86.00" y1="1112.80" x2="100.80" y2="1112.80" stroke="#000" stroke-width="2"/>
<line x1="86.00" y1="990.40" x2="100.80" y2="990.40" stroke="#000" stroke-width="2"/>
<text x="31.57" y="1002.50" font-size="30" textLength="54.35" lengthAdjust="spacingAndGlyphs" fill="#000">600</text>
<text x="32.00" y="1123.60" font-size="30" textLength="53.18" lengthAdjust="spacingAndGlyphs" fill="#000">400</text>
<text x="31.18" y="1245.20" font-size="30" textLength="54.03" lengthAdjust="spacingAndGlyphs" fill="#000">200</text>
<text x="66.76" y="1366.50" font-size="30" textLength="17.21" lengthAdjust="spacingAndGlyphs" fill="#000">0</text>
<text transform="translate(22.80,1269.70) rotate(-90)" x="-1.40" y="0" font-size="30" textLength="206.93" lengthAdjust="spacingAndGlyphs" fill="#000">Glucose (mg/dL)</text>
<text x="330.30" y="1436.30" font-size="28" textLength="186.81" lengthAdjust="spacingAndGlyphs" fill="#000">Time (minutes)</text>
<line x1="112.30" y1="1357.60" x2="112.30" y2="1371.60" stroke="#000" stroke-width="2"/>
<line x1="131.27" y1="1357.60" x2="131.27" y2="1371.60" stroke="#000" stroke-width="2"/>
<line x1="150.24" y1="1357.60" x2="150.24" y2="1371.60" stroke="#000" stroke-width="2"/>
<line x1="169.21" y1="1357.60" x2="169.21" y2="1371.60" stroke="#000" stroke-width="2"/>
<line x1="188.18" y1="1357.60" x2="188.18" y2="1371.60" stroke="#000" stroke-width="2"/>
<line x1="207.15" y1="1357.60" x2="207.15" y2="1371.60" stroke="#000" stroke-width="2"/>
<line x1="226.12" y1="1357.60" x2="226.12" y2="1371.60" stroke="#000" stroke-width="2"/>
<line x1="245.09" y1="1357.60" x2="245.09" y2="1371.60" stroke="#000" stroke-width="2"/>
<line x1="276.90" y1="1357.60" x2="276.90" y2="1371.60" stroke="#000" stroke-width="2"/>
<line x1="295.87" y1="1357.60" x2="295.87" y2="1371.60" stroke="#000" stroke-width="2"/>
<line x1="314.84" y1="1357.60" x2="314.84" y2="1371.60" stroke="#000" stroke-width="2"/>
<line x1="333.81" y1="1357.60" x2="333.81" y2="1371.60" stroke="#000" stroke-width="2"/>
<line x1="352.78" y1="1357.60" x2="352.78" y2="1371.60" stroke="#000" stroke-width="2"/>
<line x1="371.75" y1="1357.60" x2="371.75" y2="1371.60" stroke="#000" stroke-width="2"/>
<line x1="390.72" y1="1357.60" x2="390.72" y2="1371.60" stroke="#000" stroke-width="2"/>
<line x1="409.69" y1="1357.60" x2="409.69" y2="1371.60" stroke="#000" stroke-width="2"/>
<line x1="441.40" y1="1357.60" x2="441.40" y2="1371.60" stroke="#000" stroke-width="2"/>
<line x1="460.37" y1="1357.60" x2="460.37" y2="1371.60" stroke="#000" stroke-width="2"/>
<line x1="479.34" y1="1357.60" x2="479.34" y2="1371.60" stroke="#000" stroke-width="2"/>
<line x1="498.31" y1="1357.60" x2="498.31" y2="1371.60" stroke="#000" stroke-width="2"/>
<line x1="517.28" y1="1357.60" x2="517.28" y2="1371.60" stroke="#000" stroke-width="2"/>
<line x1="536.25" y1="1357.60" x2="536.25" y2="1371.60" stroke="#000" stroke-width="2"/>
<line x1="555.22" y1="1357.60" x2="555.22" y2="1371.60" stroke="#000" stroke-width="2"/>
<line x1="574.19" y1="1357.60" x2="574.19" y2="1371.60" stroke="#000" stroke-width="2"/>
<line x1="605.00" y1="1357.60" x2="605.00" y2="1371.60" stroke="#000" stroke-width="2"/>
<line x1="623.97" y1="1357.60" x2="623.97" y2="1371.60" stroke="#000" stroke-width="2"/>
<line x1="642.94" y1="1357.60" x2="642.94" y2="1371.60" stroke="#000" stroke-width="2"/>
<line x1="661.91" y1="1357.60" x2="661.91" y2="1371.60" stroke="#000" stroke-width="2"/>
<line x1="680.88" y1="1357.60" x2="680.88" y2="1371.60" stroke="#000" stroke-width="2"/>
<line x1="699.85" y1="1357.60" x2="699.85" y2="1371.60" stroke="#000" stroke-width="2"/>
<line x1="718.82" y1="1357.60" x2="718.82" y2="1371.60" stroke="#000" stroke-width="2"/>
<line x1="737.79" y1="1357.60" x2="737.79" y2="1371.60" stroke="#000" stroke-width="2"/>
<text transform="translate(115.10,1383.30) rotate(-45)" x="-12.36" y="0" font-size="24">0</text>
<text transform="translate(141.00,1382.60) rotate(-45)" x="-25.68" y="0" font-size="24">15</text>
<text transform="translate(167.90,1383.30) rotate(-45)" x="-25.68" y="0" font-size="24">30</text>
<text transform="translate(202.10,1383.30) rotate(-45)" x="-25.68" y="0" font-size="24">60</text>
<text transform="translate(256.10,1383.30) rotate(-45)" x="-39.00" y="0" font-size="24">120</text>
<text transform="translate(280.60,1383.30) rotate(-45)" x="-12.36" y="0" font-size="24">0</text>
<text transform="translate(306.50,1382.60) rotate(-45)" x="-25.68" y="0" font-size="24">15</text>
<text transform="translate(333.40,1383.30) rotate(-45)" x="-25.68" y="0" font-size="24">30</text>
<text transform="translate(367.60,1383.30) rotate(-45)" x="-25.68" y="0" font-size="24">60</text>
<text transform="translate(421.60,1383.30) rotate(-45)" x="-39.00" y="0" font-size="24">120</text>
<text transform="translate(444.90,1383.30) rotate(-45)" x="-12.36" y="0" font-size="24">0</text>
<text transform="translate(470.60,1382.60) rotate(-45)" x="-25.68" y="0" font-size="24">15</text>
<text transform="translate(498.80,1383.30) rotate(-45)" x="-25.68" y="0" font-size="24">30</text>
<text transform="translate(533.00,1383.30) rotate(-45)" x="-25.68" y="0" font-size="24">60</text>
<text transform="translate(586.80,1383.30) rotate(-45)" x="-39.00" y="0" font-size="24">120</text>
<text transform="translate(611.60,1383.30) rotate(-45)" x="-12.36" y="0" font-size="24">0</text>
<text transform="translate(636.90,1382.60) rotate(-45)" x="-25.68" y="0" font-size="24">15</text>
<text transform="translate(665.00,1383.30) rotate(-45)" x="-25.68" y="0" font-size="24">30</text>
<text transform="translate(698.80,1383.30) rotate(-45)" x="-25.68" y="0" font-size="24">60</text>
<text transform="translate(752.60,1383.30) rotate(-45)" x="-39.00" y="0" font-size="24">120</text>
<line x1="131.10" y1="1123.70" x2="131.10" y2="1150.00" stroke="#000" stroke-width="1.6"/>
<line x1="125.10" y1="1143.00" x2="137.10" y2="1143.00" stroke="#000" stroke-width="2"/>
<line x1="128.10" y1="1123.70" x2="134.10" y2="1123.70" stroke="#000" stroke-width="2"/>
<line x1="128.10" y1="1150.00" x2="134.10" y2="1150.00" stroke="#000" stroke-width="2"/>
<line x1="150.30" y1="1138.00" x2="150.30" y2="1166.40" stroke="#000" stroke-width="1.6"/>
<line x1="144.30" y1="1152.10" x2="156.30" y2="1152.10" stroke="#000" stroke-width="2"/>
<line x1="147.30" y1="1138.00" x2="153.30" y2="1138.00" stroke="#000" stroke-width="2"/>
<line x1="147.30" y1="1166.40" x2="153.30" y2="1166.40" stroke="#000" stroke-width="2"/>
<line x1="188.30" y1="1172.80" x2="188.30" y2="1200.20" stroke="#000" stroke-width="1.6"/>
<line x1="182.30" y1="1186.50" x2="194.30" y2="1186.50" stroke="#000" stroke-width="2"/>
<line x1="185.30" y1="1172.80" x2="191.30" y2="1172.80" stroke="#000" stroke-width="2"/>
<line x1="185.30" y1="1200.20" x2="191.30" y2="1200.20" stroke="#000" stroke-width="2"/>
<g fill="#0000BF"><circle cx="112.9" cy="1275.0" r="4.2"/><circle cx="113.8" cy="1283.6" r="4.2"/><circle cx="111.1" cy="1293.7" r="4.2"/><circle cx="115.9" cy="1292.2" r="4.2"/><circle cx="111.5" cy="1299.9" r="4.2"/><circle cx="114.4" cy="1304.7" r="4.2"/><circle cx="112.4" cy="1302.0" r="4.2"/><circle cx="111.3" cy="1313.4" r="4.2"/><circle cx="115.0" cy="1297.0" r="4.2"/><circle cx="131.9" cy="1057.0" r="4.2"/><circle cx="129.1" cy="1074.6" r="4.2"/><circle cx="135.2" cy="1080.1" r="4.2"/><circle cx="129.1" cy="1084.5" r="4.2"/><circle cx="128.8" cy="1095.5" r="4.2"/><circle cx="134.6" cy="1098.2" r="4.2"/><circle cx="128.8" cy="1141.1" r="4.2"/><circle cx="134.9" cy="1141.1" r="4.2"/><circle cx="134.9" cy="1152.6" r="4.2"/><circle cx="129.1" cy="1157.6" r="4.2"/><circle cx="129.2" cy="1206.0" r="4.2"/><circle cx="134.7" cy="1204.4" r="4.2"/><circle cx="129.2" cy="1230.0" r="4.2"/><circle cx="134.7" cy="1227.0" r="4.2"/><circle cx="150.5" cy="1057.6" r="4.2"/><circle cx="150.5" cy="1065.3" r="4.2"/><circle cx="148.1" cy="1112.0" r="4.2"/><circle cx="153.8" cy="1118.9" r="4.2"/><circle cx="148.1" cy="1124.1" r="4.2"/><circle cx="150.8" cy="1134.7" r="4.2"/><circle cx="150.8" cy="1145.3" r="4.2"/><circle cx="148.1" cy="1160.9" r="4.2"/><circle cx="153.8" cy="1162.0" r="4.2"/><circle cx="148.1" cy="1182.9" r="4.2"/><circle cx="153.8" cy="1185.0" r="4.2"/><circle cx="150.8" cy="1195.5" r="4.2"/><circle cx="150.3" cy="1231.8" r="4.2"/><circle cx="150.3" cy="1245.2" r="4.2"/><circle cx="188.3" cy="1105.4" r="4.2"/><circle cx="188.3" cy="1122.0" r="4.2"/><circle cx="188.3" cy="1135.0" r="4.2"/><circle cx="188.3" cy="1156.3" r="4.2"/><circle cx="188.3" cy="1167.1" r="4.2"/><circle cx="191.6" cy="1170.0" r="4.2"/><circle cx="185.8" cy="1172.9" r="4.2"/><circle cx="188.3" cy="1176.5" r="4.2"/><circle cx="188.3" cy="1208.2" r="4.2"/><circle cx="185.8" cy="1214.6" r="4.2"/><circle cx="188.3" cy="1218.7" r="4.2"/><circle cx="188.3" cy="1233.1" r="4.2"/><circle cx="188.3" cy="1256.4" r="4.2"/><circle cx="188.3" cy="1275.9" r="4.2"/><circle cx="245.6" cy="1208.4" r="4.2"/><circle cx="248.5" cy="1216.1" r="4.2"/><circle cx="245.6" cy="1219.3" r="4.2"/><circle cx="245.6" cy="1226.9" r="4.2"/><circle cx="245.6" cy="1234.1" r="4.2"/><circle cx="248.5" cy="1241.3" r="4.2"/><circle cx="242.7" cy="1244.9" r="4.2"/><circle cx="248.5" cy="1250.0" r="4.2"/><circle cx="245.6" cy="1253.5" r="4.2"/><circle cx="242.7" cy="1257.9" r="4.2"/><circle cx="248.5" cy="1260.7" r="4.2"/><circle cx="245.6" cy="1265.5" r="4.2"/><circle cx="245.6" cy="1290.3" r="4.2"/></g>
<line x1="276.90" y1="1302.00" x2="276.90" y2="1309.00" stroke="#000" stroke-width="1.6"/>
<line x1="270.90" y1="1305.70" x2="282.90" y2="1305.70" stroke="#000" stroke-width="2"/>
<line x1="273.90" y1="1302.00" x2="279.90" y2="1302.00" stroke="#000" stroke-width="2"/>
<line x1="273.90" y1="1309.00" x2="279.90" y2="1309.00" stroke="#000" stroke-width="2"/>
<line x1="295.60" y1="1160.50" x2="295.60" y2="1186.90" stroke="#000" stroke-width="1.6"/>
<line x1="289.60" y1="1173.70" x2="301.60" y2="1173.70" stroke="#000" stroke-width="2"/>
<line x1="292.60" y1="1160.50" x2="298.60" y2="1160.50" stroke="#000" stroke-width="2"/>
<line x1="292.60" y1="1186.90" x2="298.60" y2="1186.90" stroke="#000" stroke-width="2"/>
<line x1="314.80" y1="1190.00" x2="314.80" y2="1210.20" stroke="#000" stroke-width="1.6"/>
<line x1="308.80" y1="1200.00" x2="320.80" y2="1200.00" stroke="#000" stroke-width="2"/>
<line x1="311.80" y1="1190.00" x2="317.80" y2="1190.00" stroke="#000" stroke-width="2"/>
<line x1="311.80" y1="1210.20" x2="317.80" y2="1210.20" stroke="#000" stroke-width="2"/>
<line x1="352.80" y1="1234.00" x2="352.80" y2="1243.00" stroke="#000" stroke-width="1.6"/>
<line x1="346.80" y1="1238.50" x2="358.80" y2="1238.50" stroke="#000" stroke-width="2"/>
<line x1="349.80" y1="1234.00" x2="355.80" y2="1234.00" stroke="#000" stroke-width="2"/>
<line x1="349.80" y1="1243.00" x2="355.80" y2="1243.00" stroke="#000" stroke-width="2"/>
<line x1="409.20" y1="1260.00" x2="409.20" y2="1268.00" stroke="#000" stroke-width="1.6"/>
<line x1="403.20" y1="1263.90" x2="415.20" y2="1263.90" stroke="#000" stroke-width="2"/>
<line x1="406.20" y1="1260.00" x2="412.20" y2="1260.00" stroke="#000" stroke-width="2"/>
<line x1="406.20" y1="1268.00" x2="412.20" y2="1268.00" stroke="#000" stroke-width="2"/>
<g fill="#C9DCF6"><circle cx="277.6" cy="1278.1" r="4.2"/><circle cx="275.9" cy="1280.5" r="4.2"/><circle cx="277.1" cy="1294.9" r="4.2"/><circle cx="275.2" cy="1302.1" r="4.2"/><circle cx="280.0" cy="1302.1" r="4.2"/><circle cx="276.4" cy="1309.3" r="4.2"/><circle cx="280.0" cy="1314.1" r="4.2"/><circle cx="275.2" cy="1316.5" r="4.2"/><circle cx="277.6" cy="1321.3" r="4.2"/><circle cx="276.4" cy="1325.0" r="4.2"/><circle cx="295.6" cy="1094.4" r="4.2"/><circle cx="295.6" cy="1105.7" r="4.2"/><circle cx="295.6" cy="1124.4" r="4.2"/><circle cx="293.2" cy="1132.8" r="4.2"/><circle cx="295.6" cy="1137.6" r="4.2"/><circle cx="295.6" cy="1154.5" r="4.2"/><circle cx="298.7" cy="1166.0" r="4.2"/><circle cx="294.4" cy="1172.5" r="4.2"/><circle cx="295.6" cy="1191.0" r="4.2"/><circle cx="295.6" cy="1203.7" r="4.2"/><circle cx="299.0" cy="1208.0" r="4.2"/><circle cx="295.6" cy="1213.3" r="4.2"/><circle cx="297.0" cy="1266.1" r="4.2"/><circle cx="294.4" cy="1267.3" r="4.2"/><circle cx="314.8" cy="1113.6" r="4.2"/><circle cx="314.8" cy="1162.9" r="4.2"/><circle cx="314.8" cy="1177.3" r="4.2"/><circle cx="314.8" cy="1185.7" r="4.2"/><circle cx="311.2" cy="1188.1" r="4.2"/><circle cx="318.4" cy="1191.7" r="4.2"/><circle cx="311.2" cy="1198.9" r="4.2"/><circle cx="314.8" cy="1204.9" r="4.2"/><circle cx="314.8" cy="1222.9" r="4.2"/><circle cx="318.4" cy="1224.6" r="4.2"/><circle cx="314.8" cy="1230.1" r="4.2"/><circle cx="314.8" cy="1249.3" r="4.2"/><circle cx="314.8" cy="1276.4" r="4.2"/><circle cx="352.8" cy="1201.8" r="4.2"/><circle cx="354.4" cy="1212.1" r="4.2"/><circle cx="352.0" cy="1214.0" r="4.2"/><circle cx="352.8" cy="1226.5" r="4.2"/><circle cx="352.8" cy="1234.9" r="4.2"/><circle cx="355.6" cy="1236.1" r="4.2"/><circle cx="352.8" cy="1239.7" r="4.2"/><circle cx="355.6" cy="1245.7" r="4.2"/><circle cx="350.8" cy="1248.1" r="4.2"/><circle cx="352.8" cy="1252.9" r="4.2"/><circle cx="352.8" cy="1259.6" r="4.2"/><circle cx="352.8" cy="1280.5" r="4.2"/><circle cx="409.6" cy="1243.3" r="4.2"/><circle cx="407.2" cy="1245.7" r="4.2"/><circle cx="409.2" cy="1258.9" r="4.2"/><circle cx="412.0" cy="1260.1" r="4.2"/><circle cx="409.2" cy="1267.3" r="4.2"/><circle cx="412.0" cy="1270.9" r="4.2"/><circle cx="409.2" cy="1273.3" r="4.2"/><circle cx="408.0" cy="1276.9" r="4.2"/><circle cx="409.2" cy="1280.5" r="4.2"/><circle cx="409.2" cy="1286.5" r="4.2"/></g>
<line x1="441.30" y1="1261.00" x2="441.30" y2="1269.00" stroke="#000" stroke-width="1.6"/>
<line x1="435.30" y1="1265.00" x2="447.30" y2="1265.00" stroke="#000" stroke-width="2"/>
<line x1="438.30" y1="1261.00" x2="444.30" y2="1261.00" stroke="#000" stroke-width="2"/>
<line x1="438.30" y1="1269.00" x2="444.30" y2="1269.00" stroke="#000" stroke-width="2"/>
<line x1="459.80" y1="1082.00" x2="459.80" y2="1107.60" stroke="#000" stroke-width="1.6"/>
<line x1="453.80" y1="1094.10" x2="465.80" y2="1094.10" stroke="#000" stroke-width="2"/>
<line x1="456.80" y1="1082.00" x2="462.80" y2="1082.00" stroke="#000" stroke-width="2"/>
<line x1="456.80" y1="1107.60" x2="462.80" y2="1107.60" stroke="#000" stroke-width="2"/>
<line x1="478.70" y1="1104.00" x2="478.70" y2="1132.50" stroke="#000" stroke-width="1.6"/>
<line x1="472.70" y1="1117.60" x2="484.70" y2="1117.60" stroke="#000" stroke-width="2"/>
<line x1="475.70" y1="1104.00" x2="481.70" y2="1104.00" stroke="#000" stroke-width="2"/>
<line x1="475.70" y1="1132.50" x2="481.70" y2="1132.50" stroke="#000" stroke-width="2"/>
<line x1="516.50" y1="1144.40" x2="516.50" y2="1172.90" stroke="#000" stroke-width="1.6"/>
<line x1="510.50" y1="1158.80" x2="522.50" y2="1158.80" stroke="#000" stroke-width="2"/>
<line x1="513.50" y1="1144.40" x2="519.50" y2="1144.40" stroke="#000" stroke-width="2"/>
<line x1="513.50" y1="1172.90" x2="519.50" y2="1172.90" stroke="#000" stroke-width="2"/>
<line x1="573.70" y1="1215.00" x2="573.70" y2="1232.00" stroke="#000" stroke-width="1.6"/>
<line x1="567.70" y1="1223.50" x2="579.70" y2="1223.50" stroke="#000" stroke-width="2"/>
<line x1="570.70" y1="1215.00" x2="576.70" y2="1215.00" stroke="#000" stroke-width="2"/>
<line x1="570.70" y1="1232.00" x2="576.70" y2="1232.00" stroke="#000" stroke-width="2"/>
<g fill="#A00000"><circle cx="441.3" cy="1225.1" r="4.2"/><circle cx="441.3" cy="1244.0" r="4.2"/><circle cx="441.3" cy="1253.9" r="4.2"/><circle cx="441.3" cy="1258.9" r="4.2"/><circle cx="441.3" cy="1262.9" r="4.2"/><circle cx="441.3" cy="1267.9" r="4.2"/><circle cx="436.5" cy="1270.8" r="4.2"/><circle cx="446.2" cy="1270.8" r="4.2"/><circle cx="441.3" cy="1280.8" r="4.2"/><circle cx="441.3" cy="1286.8" r="4.2"/><circle cx="441.3" cy="1289.8" r="4.2"/><circle cx="441.3" cy="1304.7" r="4.2"/><circle cx="455.8" cy="1050.9" r="4.2"/><circle cx="459.8" cy="1050.9" r="4.2"/><circle cx="463.8" cy="1050.9" r="4.2"/><circle cx="459.8" cy="1061.8" r="4.2"/><circle cx="458.8" cy="1064.2" r="4.2"/><circle cx="459.8" cy="1075.8" r="4.2"/><circle cx="459.8" cy="1082.7" r="4.2"/><circle cx="459.8" cy="1119.6" r="4.2"/><circle cx="459.8" cy="1129.5" r="4.2"/><circle cx="459.8" cy="1139.5" r="4.2"/><circle cx="459.8" cy="1182.3" r="4.2"/><circle cx="459.8" cy="1214.1" r="4.2"/><circle cx="475.7" cy="1050.9" r="4.2"/><circle cx="481.7" cy="1050.9" r="4.2"/><circle cx="478.7" cy="1054.9" r="4.2"/><circle cx="478.7" cy="1067.8" r="4.2"/><circle cx="478.7" cy="1074.8" r="4.2"/><circle cx="478.7" cy="1083.7" r="4.2"/><circle cx="476.7" cy="1108.6" r="4.2"/><circle cx="479.7" cy="1111.6" r="4.2"/><circle cx="478.7" cy="1127.5" r="4.2"/><circle cx="476.7" cy="1142.5" r="4.2"/><circle cx="481.7" cy="1145.4" r="4.2"/><circle cx="478.7" cy="1177.3" r="4.2"/><circle cx="478.7" cy="1193.2" r="4.2"/><circle cx="478.7" cy="1232.6" r="4.2"/><circle cx="516.5" cy="1058.9" r="4.2"/><circle cx="516.5" cy="1067.4" r="4.2"/><circle cx="516.5" cy="1093.7" r="4.2"/><circle cx="516.5" cy="1099.7" r="4.2"/><circle cx="516.5" cy="1138.5" r="4.2"/><circle cx="516.5" cy="1153.8" r="4.2"/><circle cx="516.5" cy="1162.4" r="4.2"/><circle cx="516.5" cy="1177.7" r="4.2"/><circle cx="516.5" cy="1184.3" r="4.2"/><circle cx="516.5" cy="1194.2" r="4.2"/><circle cx="513.5" cy="1197.2" r="4.2"/><circle cx="519.5" cy="1197.2" r="4.2"/><circle cx="516.5" cy="1205.2" r="4.2"/><circle cx="516.5" cy="1249.9" r="4.2"/><circle cx="573.7" cy="1157.8" r="4.2"/><circle cx="573.7" cy="1193.6" r="4.2"/><circle cx="571.7" cy="1201.2" r="4.2"/><circle cx="577.7" cy="1201.2" r="4.2"/><circle cx="570.7" cy="1213.1" r="4.2"/><circle cx="576.7" cy="1215.1" r="4.2"/><circle cx="573.7" cy="1218.1" r="4.2"/><circle cx="576.7" cy="1234.0" r="4.2"/><circle cx="573.7" cy="1238.0" r="4.2"/><circle cx="573.7" cy="1247.0" r="4.2"/><circle cx="573.7" cy="1260.9" r="4.2"/><circle cx="576.7" cy="1263.9" r="4.2"/><circle cx="571.7" cy="1266.5" r="4.2"/></g>
<line x1="604.90" y1="1278.00" x2="604.90" y2="1285.00" stroke="#000" stroke-width="1.6"/>
<line x1="598.90" y1="1281.80" x2="610.90" y2="1281.80" stroke="#000" stroke-width="2"/>
<line x1="601.90" y1="1278.00" x2="607.90" y2="1278.00" stroke="#000" stroke-width="2"/>
<line x1="601.90" y1="1285.00" x2="607.90" y2="1285.00" stroke="#000" stroke-width="2"/>
<line x1="623.80" y1="1135.90" x2="623.80" y2="1157.00" stroke="#000" stroke-width="1.6"/>
<line x1="617.80" y1="1146.40" x2="629.80" y2="1146.40" stroke="#000" stroke-width="2"/>
<line x1="620.80" y1="1135.90" x2="626.80" y2="1135.90" stroke="#000" stroke-width="2"/>
<line x1="620.80" y1="1157.00" x2="626.80" y2="1157.00" stroke="#000" stroke-width="2"/>
<line x1="642.70" y1="1171.70" x2="642.70" y2="1186.80" stroke="#000" stroke-width="1.6"/>
<line x1="636.70" y1="1177.70" x2="648.70" y2="1177.70" stroke="#000" stroke-width="2"/>
<line x1="639.70" y1="1171.70" x2="645.70" y2="1171.70" stroke="#000" stroke-width="2"/>
<line x1="639.70" y1="1186.80" x2="645.70" y2="1186.80" stroke="#000" stroke-width="2"/>
<line x1="680.60" y1="1198.00" x2="680.60" y2="1210.00" stroke="#000" stroke-width="1.6"/>
<line x1="674.60" y1="1204.20" x2="686.60" y2="1204.20" stroke="#000" stroke-width="2"/>
<line x1="677.60" y1="1198.00" x2="683.60" y2="1198.00" stroke="#000" stroke-width="2"/>
<line x1="677.60" y1="1210.00" x2="683.60" y2="1210.00" stroke="#000" stroke-width="2"/>
<line x1="737.30" y1="1241.00" x2="737.30" y2="1253.00" stroke="#000" stroke-width="1.6"/>
<line x1="731.30" y1="1247.00" x2="743.30" y2="1247.00" stroke="#000" stroke-width="2"/>
<line x1="734.30" y1="1241.00" x2="740.30" y2="1241.00" stroke="#000" stroke-width="2"/>
<line x1="734.30" y1="1253.00" x2="740.30" y2="1253.00" stroke="#000" stroke-width="2"/>
<g fill="#D8B0B0"><circle cx="604.9" cy="1254.9" r="4.2"/><circle cx="604.9" cy="1266.9" r="4.2"/><circle cx="602.0" cy="1271.8" r="4.2"/><circle cx="608.5" cy="1271.8" r="4.2"/><circle cx="604.9" cy="1277.8" r="4.2"/><circle cx="604.9" cy="1281.8" r="4.2"/><circle cx="604.9" cy="1286.8" r="4.2"/><circle cx="602.0" cy="1288.8" r="4.2"/><circle cx="603.0" cy="1296.7" r="4.2"/><circle cx="608.5" cy="1296.7" r="4.2"/><circle cx="623.8" cy="1051.5" r="4.2"/><circle cx="623.8" cy="1085.3" r="4.2"/><circle cx="623.8" cy="1112.6" r="4.2"/><circle cx="626.8" cy="1122.6" r="4.2"/><circle cx="622.8" cy="1127.9" r="4.2"/><circle cx="622.0" cy="1142.5" r="4.2"/><circle cx="624.8" cy="1149.4" r="4.2"/><circle cx="626.8" cy="1154.4" r="4.2"/><circle cx="622.0" cy="1160.4" r="4.2"/><circle cx="623.8" cy="1184.3" r="4.2"/><circle cx="623.8" cy="1193.2" r="4.2"/><circle cx="626.8" cy="1200.2" r="4.2"/><circle cx="621.8" cy="1206.2" r="4.2"/><circle cx="642.7" cy="1099.3" r="4.2"/><circle cx="642.7" cy="1119.0" r="4.2"/><circle cx="642.7" cy="1138.5" r="4.2"/><circle cx="640.7" cy="1166.3" r="4.2"/><circle cx="645.7" cy="1166.3" r="4.2"/><circle cx="645.7" cy="1177.3" r="4.2"/><circle cx="640.7" cy="1182.3" r="4.2"/><circle cx="645.7" cy="1185.3" r="4.2"/><circle cx="642.7" cy="1197.2" r="4.2"/><circle cx="642.7" cy="1198.2" r="4.2"/><circle cx="640.7" cy="1205.2" r="4.2"/><circle cx="645.7" cy="1208.1" r="4.2"/><circle cx="642.7" cy="1211.1" r="4.2"/><circle cx="642.7" cy="1229.6" r="4.2"/><circle cx="680.6" cy="1166.3" r="4.2"/><circle cx="680.6" cy="1171.7" r="4.2"/><circle cx="680.6" cy="1181.3" r="4.2"/><circle cx="680.6" cy="1186.3" r="4.2"/><circle cx="680.6" cy="1193.2" r="4.2"/><circle cx="683.6" cy="1196.2" r="4.2"/><circle cx="680.6" cy="1209.1" r="4.2"/><circle cx="680.6" cy="1213.1" r="4.2"/><circle cx="680.6" cy="1224.1" r="4.2"/><circle cx="680.6" cy="1227.1" r="4.2"/><circle cx="680.6" cy="1242.0" r="4.2"/><circle cx="739.3" cy="1224.1" r="4.2"/><circle cx="736.3" cy="1228.0" r="4.2"/><circle cx="740.3" cy="1232.0" r="4.2"/><circle cx="737.3" cy="1236.0" r="4.2"/><circle cx="737.3" cy="1241.0" r="4.2"/><circle cx="737.3" cy="1247.0" r="4.2"/><circle cx="737.3" cy="1253.9" r="4.2"/><circle cx="737.3" cy="1256.9" r="4.2"/><circle cx="737.3" cy="1261.9" r="4.2"/><circle cx="737.3" cy="1270.8" r="4.2"/><circle cx="737.3" cy="1275.8" r="4.2"/><circle cx="737.3" cy="1287.8" r="4.2"/></g>
<text x="786.85" y="790.30" font-size="39.5" font-weight="bold" textLength="26.73" lengthAdjust="spacingAndGlyphs" fill="#000">d</text>
<line x1="909.80" y1="962.50" x2="909.80" y2="1357.50" stroke="#000" stroke-width="2"/>
<line x1="893.00" y1="1356.80" x2="1343.40" y2="1356.80" stroke="#000" stroke-width="2"/>
<line x1="893.60" y1="963.30" x2="909.80" y2="963.30" stroke="#000" stroke-width="2"/>
<line x1="893.60" y1="1094.50" x2="909.80" y2="1094.50" stroke="#000" stroke-width="2"/>
<line x1="893.60" y1="1225.80" x2="909.80" y2="1225.80" stroke="#000" stroke-width="2"/>
<text x="793.60" y="979.80" font-size="29.5" textLength="94.38" lengthAdjust="spacingAndGlyphs" fill="#000">60000</text>
<text x="794.16" y="1104.50" font-size="29.5" textLength="93.51" lengthAdjust="spacingAndGlyphs" fill="#000">40000</text>
<text x="793.30" y="1228.60" font-size="29.5" textLength="94.38" lengthAdjust="spacingAndGlyphs" fill="#000">20000</text>
<text x="866.57" y="1358.40" font-size="29.5" textLength="17.09" lengthAdjust="spacingAndGlyphs" fill="#000">0</text>
<text transform="translate(787.3,1257.7) rotate(-90)" x="0" y="0" font-size="26" textLength="232.7" lengthAdjust="spacingAndGlyphs">AUC (mg*dL<tspan font-size="20">-</tspan><tspan font-size="17" dy="-8">1</tspan><tspan dy="8">*min)</tspan></text>
<rect x="940.30" y="1150.10" width="54.90" height="206.70" fill="#0000BF" stroke="#000" stroke-width="2.2"/>
<rect x="1026.20" y="1200.10" width="56.30" height="156.70" fill="#C9DCF6" stroke="#000" stroke-width="2.2"/>
<rect x="1171.70" y="1112.70" width="54.10" height="244.10" fill="#A00000" stroke="#000" stroke-width="2.2"/>
<rect x="1257.50" y="1165.50" width="55.10" height="191.30" fill="#D8B0B0" stroke="#000" stroke-width="2.2"/>
<line x1="967.50" y1="1135.30" x2="967.50" y2="1161.80" stroke="#000" stroke-width="2"/>
<line x1="953.50" y1="1135.30" x2="981.50" y2="1135.30" stroke="#000" stroke-width="2"/>
<line x1="953.50" y1="1161.80" x2="981.50" y2="1161.80" stroke="#000" stroke-width="2"/>
<g fill="#000"><circle cx="967.3" cy="1065.6" r="4.6"/><circle cx="967.3" cy="1076.3" r="4.6"/><circle cx="942.2" cy="1114.6" r="4.6"/><circle cx="942.2" cy="1122.6" r="4.6"/><circle cx="958.5" cy="1120.5" r="4.6"/><circle cx="991.8" cy="1122.6" r="4.6"/><circle cx="967.3" cy="1137.3" r="4.6"/><circle cx="967.3" cy="1145.3" r="4.6"/><circle cx="950.5" cy="1166.8" r="4.6"/><circle cx="983.5" cy="1169.8" r="4.6"/><circle cx="967.3" cy="1173.6" r="4.6"/><circle cx="967.3" cy="1199.3" r="4.6"/><circle cx="967.3" cy="1219.0" r="4.6"/><circle cx="967.3" cy="1244.1" r="4.6"/></g>
<line x1="1054.30" y1="1191.10" x2="1054.30" y2="1204.30" stroke="#000" stroke-width="2"/>
<line x1="1039.60" y1="1191.10" x2="1068.90" y2="1191.10" stroke="#000" stroke-width="2"/>
<line x1="1039.60" y1="1204.30" x2="1068.90" y2="1204.30" stroke="#000" stroke-width="2"/>
<g fill="#000"><circle cx="1053.5" cy="1163.0" r="4.6"/><circle cx="1045.6" cy="1171.9" r="4.6"/><circle cx="1029.4" cy="1178.7" r="4.6"/><circle cx="1061.9" cy="1178.7" r="4.6"/><circle cx="1078.5" cy="1180.6" r="4.6"/><circle cx="1029.4" cy="1187.6" r="4.6"/><circle cx="1045.6" cy="1184.8" r="4.6"/><circle cx="1061.9" cy="1191.3" r="4.6"/><circle cx="1029.4" cy="1203.7" r="4.6"/><circle cx="1045.6" cy="1205.9" r="4.6"/><circle cx="1061.9" cy="1208.3" r="4.6"/><circle cx="1078.5" cy="1203.7" r="4.6"/><circle cx="1045.6" cy="1215.7" r="4.6"/><circle cx="1053.5" cy="1234.8" r="4.6"/><circle cx="1053.5" cy="1260.2" r="4.6"/></g>
<line x1="1198.10" y1="1098.50" x2="1198.10" y2="1124.40" stroke="#000" stroke-width="2"/>
<line x1="1184.10" y1="1098.50" x2="1212.00" y2="1098.50" stroke="#000" stroke-width="2"/>
<line x1="1184.10" y1="1124.40" x2="1212.00" y2="1124.40" stroke="#000" stroke-width="2"/>
<g fill="#000"><circle cx="1198.1" cy="1019.0" r="4.6"/><circle cx="1198.1" cy="1052.8" r="4.6"/><circle cx="1190.0" cy="1065.5" r="4.6"/><circle cx="1207.0" cy="1061.4" r="4.6"/><circle cx="1190.0" cy="1093.9" r="4.6"/><circle cx="1207.0" cy="1097.7" r="4.6"/><circle cx="1181.6" cy="1111.7" r="4.6"/><circle cx="1198.1" cy="1115.5" r="4.6"/><circle cx="1215.9" cy="1111.2" r="4.6"/><circle cx="1190.0" cy="1126.9" r="4.6"/><circle cx="1207.0" cy="1123.6" r="4.6"/><circle cx="1198.1" cy="1143.4" r="4.6"/><circle cx="1198.1" cy="1156.6" r="4.6"/><circle cx="1198.1" cy="1174.7" r="4.6"/><circle cx="1198.1" cy="1216.3" r="4.6"/></g>
<line x1="1285.10" y1="1156.90" x2="1285.10" y2="1171.90" stroke="#000" stroke-width="2"/>
<line x1="1271.20" y1="1156.90" x2="1299.10" y2="1156.90" stroke="#000" stroke-width="2"/>
<line x1="1271.20" y1="1171.90" x2="1299.10" y2="1171.90" stroke="#000" stroke-width="2"/>
<g fill="#000"><circle cx="1284.9" cy="1115.5" r="4.6"/><circle cx="1284.9" cy="1130.7" r="4.6"/><circle cx="1284.9" cy="1138.4" r="4.6"/><circle cx="1297.1" cy="1137.9" r="4.6"/><circle cx="1272.5" cy="1150.3" r="4.6"/><circle cx="1284.9" cy="1149.8" r="4.6"/><circle cx="1297.1" cy="1154.4" r="4.6"/><circle cx="1284.9" cy="1159.9" r="4.6"/><circle cx="1284.9" cy="1179.0" r="4.6"/><circle cx="1260.3" cy="1187.9" r="4.6"/><circle cx="1272.5" cy="1186.6" r="4.6"/><circle cx="1297.1" cy="1187.4" r="4.6"/><circle cx="1309.8" cy="1189.1" r="4.6"/><circle cx="1284.9" cy="1193.4" r="4.6"/><circle cx="1284.9" cy="1205.6" r="4.6"/></g>
<line x1="893.00" y1="1356.80" x2="1343.40" y2="1356.80" stroke="#000" stroke-width="2"/>
<path d="M967.6 887.0 V858.4 H1287.2 V887.0" fill="none" stroke="#222" stroke-width="1.9"/>
<path d="M968.6 942.2 V919.2 H1205.7 V942.2" fill="none" stroke="#222" stroke-width="1.9"/>
<path d="M967.6 996.5 V973.5 H1045.4 V996.5" fill="none" stroke="#222" stroke-width="1.9"/>
<path d="M1206.6 996.5 V973.5 H1284.8 V996.5" fill="none" stroke="#222" stroke-width="1.9"/>
<text x="1111.28" y="852.20" font-size="25" textLength="40.10" lengthAdjust="spacingAndGlyphs" fill="#000">n.s.</text>
<text x="1069.28" y="915.90" font-size="25" textLength="40.10" lengthAdjust="spacingAndGlyphs" fill="#000">n.s.</text>
<text x="977.61" y="965.70" font-size="23.5" textLength="62.15" lengthAdjust="spacingAndGlyphs" fill="#000">0.008</text>
<text x="1212.93" y="965.70" font-size="23.5" textLength="60.86" lengthAdjust="spacingAndGlyphs" fill="#000">0.004</text>
<text transform="translate(997.00,1375.60) rotate(-40)" x="-89.29" y="0" font-size="28.3">Control</text>
<text transform="translate(1073.20,1374.30) rotate(-40)" x="-81.08" y="0" font-size="28.3">17αE2</text>
<text transform="translate(1221.30,1375.80) rotate(-40)" x="-89.29" y="0" font-size="28.3">Control</text>
<text transform="translate(1297.10,1374.90) rotate(-40)" x="-81.08" y="0" font-size="28.3">17αE2</text>
<text x="955.84" y="1455.00" font-size="28.5" font-style="italic" textLength="102.87" lengthAdjust="spacingAndGlyphs" fill="#000">APOE3</text>
<text x="1186.55" y="1455.00" font-size="28.5" font-style="italic" textLength="103.64" lengthAdjust="spacingAndGlyphs" fill="#000">APOE4</text>
<text x="1440.21" y="790.90" font-size="39.5" font-weight="bold" textLength="24.91" lengthAdjust="spacingAndGlyphs" fill="#000">e</text>
<line x1="1500.30" y1="927.00" x2="1500.30" y2="1354.80" stroke="#000" stroke-width="2"/>
<line x1="1482.20" y1="1354.20" x2="1936.30" y2="1354.20" stroke="#000" stroke-width="2"/>
<line x1="1483.00" y1="927.90" x2="1500.30" y2="927.90" stroke="#000" stroke-width="2"/>
<line x1="1483.00" y1="1034.70" x2="1500.30" y2="1034.70" stroke="#000" stroke-width="2"/>
<line x1="1483.00" y1="1141.20" x2="1500.30" y2="1141.20" stroke="#000" stroke-width="2"/>
<line x1="1483.00" y1="1247.00" x2="1500.30" y2="1247.00" stroke="#000" stroke-width="2"/>
<text x="1444.52" y="941.70" font-size="30" textLength="34.91" lengthAdjust="spacingAndGlyphs" fill="#000">40</text>
<text x="1444.35" y="1040.60" font-size="30" textLength="34.77" lengthAdjust="spacingAndGlyphs" fill="#000">30</text>
<text x="1444.02" y="1146.90" font-size="30" textLength="35.12" lengthAdjust="spacingAndGlyphs" fill="#000">20</text>
<text x="1443.17" y="1252.00" font-size="30" textLength="36.00" lengthAdjust="spacingAndGlyphs" fill="#000">10</text>
<text x="1461.21" y="1356.90" font-size="30" textLength="17.91" lengthAdjust="spacingAndGlyphs" fill="#000">0</text>
<text transform="translate(1423.20,1276.00) rotate(-90)" x="-2.19" y="0" font-size="29.5" textLength="266.47" lengthAdjust="spacingAndGlyphs" fill="#000">Plasma leptin (ng/mL)</text>
<rect x="1530.70" y="1270.60" width="54.80" height="83.60" fill="#0000BF" stroke="#000" stroke-width="2.2"/>
<rect x="1618.00" y="1312.80" width="54.90" height="41.40" fill="#C9DCF6" stroke="#000" stroke-width="2.2"/>
<rect x="1763.40" y="1191.40" width="54.60" height="162.80" fill="#A00000" stroke="#000" stroke-width="2.2"/>
<rect x="1851.00" y="1283.30" width="55.10" height="70.90" fill="#D8B0B0" stroke="#000" stroke-width="2.2"/>
<line x1="1558.10" y1="1250.10" x2="1558.10" y2="1288.60" stroke="#000" stroke-width="2"/>
<line x1="1544.40" y1="1250.10" x2="1572.30" y2="1250.10" stroke="#000" stroke-width="2"/>
<line x1="1544.40" y1="1288.60" x2="1572.30" y2="1288.60" stroke="#000" stroke-width="2"/>
<g fill="#000"><circle cx="1557.9" cy="1139.4" r="4.7"/><circle cx="1557.9" cy="1188.4" r="4.7"/><circle cx="1549.5" cy="1272.9" r="4.7"/><circle cx="1566.7" cy="1269.6" r="4.7"/><circle cx="1549.5" cy="1286.4" r="4.7"/><circle cx="1566.7" cy="1282.3" r="4.7"/><circle cx="1549.5" cy="1296.5" r="4.7"/><circle cx="1566.7" cy="1292.5" r="4.7"/><circle cx="1549.5" cy="1333.8" r="4.7"/><circle cx="1566.7" cy="1331.3" r="4.7"/></g>
<line x1="1645.50" y1="1300.80" x2="1645.50" y2="1321.10" stroke="#000" stroke-width="2"/>
<line x1="1631.50" y1="1300.80" x2="1659.40" y2="1300.80" stroke="#000" stroke-width="2"/>
<line x1="1631.50" y1="1321.10" x2="1659.40" y2="1321.10" stroke="#000" stroke-width="2"/>
<g fill="#000"><circle cx="1620.4" cy="1311.9" r="4.7"/><circle cx="1636.8" cy="1311.4" r="4.7"/><circle cx="1670.0" cy="1311.9" r="4.7"/><circle cx="1636.8" cy="1321.9" r="4.7"/><circle cx="1653.1" cy="1319.5" r="4.7"/><circle cx="1670.0" cy="1324.2" r="4.7"/><circle cx="1653.1" cy="1329.4" r="4.7"/><circle cx="1636.8" cy="1337.6" r="4.7"/><circle cx="1653.1" cy="1338.8" r="4.7"/><circle cx="1644.9" cy="1349.3" r="4.7"/><circle cx="1636.8" cy="1287.4" r="4.7"/><circle cx="1653.1" cy="1286.3" r="4.7"/><circle cx="1644.9" cy="1211.0" r="4.7"/></g>
<line x1="1790.60" y1="1163.70" x2="1790.60" y2="1215.80" stroke="#000" stroke-width="2"/>
<line x1="1776.40" y1="1163.70" x2="1804.50" y2="1163.70" stroke="#000" stroke-width="2"/>
<line x1="1776.40" y1="1215.80" x2="1804.50" y2="1215.80" stroke="#000" stroke-width="2"/>
<g fill="#000"><circle cx="1790.6" cy="1046.2" r="4.7"/><circle cx="1790.6" cy="1058.9" r="4.7"/><circle cx="1781.7" cy="1151.6" r="4.7"/><circle cx="1799.5" cy="1143.9" r="4.7"/><circle cx="1790.6" cy="1167.0" r="4.7"/><circle cx="1790.6" cy="1204.4" r="4.7"/><circle cx="1781.7" cy="1236.6" r="4.7"/><circle cx="1799.5" cy="1239.4" r="4.7"/><circle cx="1790.6" cy="1250.1" r="4.7"/><circle cx="1790.6" cy="1286.9" r="4.7"/><circle cx="1790.6" cy="1307.2" r="4.7"/></g>
<line x1="1878.30" y1="1270.40" x2="1878.30" y2="1293.20" stroke="#000" stroke-width="2"/>
<line x1="1863.40" y1="1270.40" x2="1892.60" y2="1270.40" stroke="#000" stroke-width="2"/>
<line x1="1863.40" y1="1293.20" x2="1892.60" y2="1293.20" stroke="#000" stroke-width="2"/>
<g fill="#000"><circle cx="1878.2" cy="1212.7" r="4.7"/><circle cx="1869.3" cy="1247.0" r="4.7"/><circle cx="1887.0" cy="1247.0" r="4.7"/><circle cx="1860.4" cy="1263.3" r="4.7"/><circle cx="1895.9" cy="1266.6" r="4.7"/><circle cx="1860.4" cy="1274.2" r="4.7"/><circle cx="1878.2" cy="1271.1" r="4.7"/><circle cx="1878.2" cy="1301.6" r="4.7"/><circle cx="1860.4" cy="1309.7" r="4.7"/><circle cx="1895.9" cy="1311.8" r="4.7"/><circle cx="1878.2" cy="1325.0" r="4.7"/><circle cx="1878.2" cy="1351.6" r="4.7"/></g>
<line x1="1482.20" y1="1354.20" x2="1936.30" y2="1354.20" stroke="#000" stroke-width="2"/>
<path d="M1557.9 887.2 V858.1 H1875.0 V887.2" fill="none" stroke="#222" stroke-width="1.9"/>
<path d="M1560.2 944.7 V922.9 H1630.5 V944.7" fill="none" stroke="#222" stroke-width="1.9"/>
<path d="M1558.6 997.7 V975.0 H1771.2 V997.7" fill="none" stroke="#222" stroke-width="1.9"/>
<path d="M1802.0 997.6 V974.8 H1872.9 V997.6" fill="none" stroke="#222" stroke-width="1.9"/>
<text x="1700.86" y="852.10" font-size="25" textLength="40.54" lengthAdjust="spacingAndGlyphs" fill="#000">n.s.</text>
<text x="1575.43" y="915.90" font-size="25" textLength="38.88" lengthAdjust="spacingAndGlyphs" fill="#000">n.s.</text>
<text x="1638.44" y="967.80" font-size="23.5" textLength="46.59" lengthAdjust="spacingAndGlyphs" fill="#000">0.01</text>
<text x="1808.82" y="967.10" font-size="23.5" textLength="61.06" lengthAdjust="spacingAndGlyphs" fill="#000">0.002</text>
<text transform="translate(1586.00,1375.60) rotate(-40)" x="-89.29" y="0" font-size="28.3">Control</text>
<text transform="translate(1662.30,1374.80) rotate(-40)" x="-81.08" y="0" font-size="28.3">17αE2</text>
<text transform="translate(1810.30,1375.60) rotate(-40)" x="-89.29" y="0" font-size="28.3">Control</text>
<text transform="translate(1885.90,1374.80) rotate(-40)" x="-81.08" y="0" font-size="28.3">17αE2</text>
<text x="1544.76" y="1455.50" font-size="28.5" font-style="italic" textLength="103.96" lengthAdjust="spacingAndGlyphs" fill="#000">APOE3</text>
<text x="1775.56" y="1455.50" font-size="28.5" font-style="italic" textLength="104.03" lengthAdjust="spacingAndGlyphs" fill="#000">APOE4</text>
</svg></body></html>
